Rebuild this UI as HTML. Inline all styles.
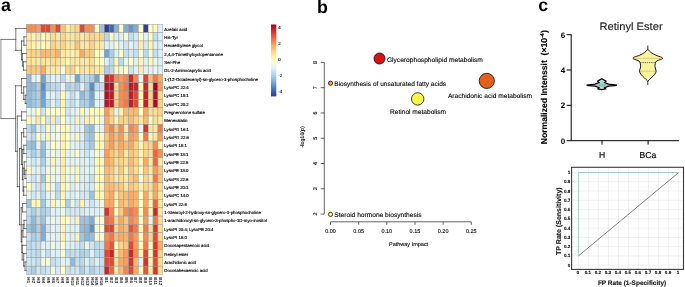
<!DOCTYPE html>
<html><head><meta charset="utf-8"><title>figure</title>
<style>html,body{margin:0;padding:0;background:#fff}svg{display:block;will-change:transform}text{text-rendering:geometricPrecision;font-family:"Liberation Sans",sans-serif}</style></head>
<body>
<svg width="685" height="287" viewBox="0 0 685 287">
<rect width="685" height="287" fill="#fff"/>
<g font-weight="bold" font-size="17.8" fill="#000"><text x="1.1" y="11.1">a</text><text x="317.1" y="13.1">b</text><text x="538.3" y="11.1">c</text></g>
<g stroke="#969696" stroke-width="0.45">
<rect x="26.30" y="24.30" width="4.88" height="8.34" fill="#F38E57"/>
<rect x="31.18" y="24.30" width="4.88" height="8.34" fill="#F38E57"/>
<rect x="36.05" y="24.30" width="4.88" height="8.34" fill="#F59C5E"/>
<rect x="40.92" y="24.30" width="4.88" height="8.34" fill="#DA4A36"/>
<rect x="45.80" y="24.30" width="4.88" height="8.34" fill="#DA4A36"/>
<rect x="50.67" y="24.30" width="4.88" height="8.34" fill="#F38E57"/>
<rect x="55.55" y="24.30" width="4.88" height="8.34" fill="#DA4A36"/>
<rect x="60.42" y="24.30" width="4.88" height="8.34" fill="#FAC078"/>
<rect x="65.30" y="24.30" width="4.88" height="8.34" fill="#FDEEAB"/>
<rect x="70.17" y="24.30" width="4.88" height="8.34" fill="#FCDE93"/>
<rect x="75.05" y="24.30" width="4.88" height="8.34" fill="#FBD48A"/>
<rect x="79.92" y="24.30" width="4.88" height="8.34" fill="#DA4A36"/>
<rect x="84.80" y="24.30" width="4.88" height="8.34" fill="#F38E57"/>
<rect x="89.67" y="24.30" width="4.88" height="8.34" fill="#F38E57"/>
<rect x="94.55" y="24.30" width="4.88" height="8.34" fill="#FEFEC3"/>
<rect x="99.42" y="24.30" width="4.88" height="8.34" fill="#9CC3DE"/>
<rect x="104.30" y="24.30" width="4.88" height="8.34" fill="#343D92"/>
<rect x="109.17" y="24.30" width="4.88" height="8.34" fill="#4368A9"/>
<rect x="114.05" y="24.30" width="4.88" height="8.34" fill="#87B2D5"/>
<rect x="118.92" y="24.30" width="4.88" height="8.34" fill="#FEFABC"/>
<rect x="123.80" y="24.30" width="4.88" height="8.34" fill="#82AED3"/>
<rect x="128.68" y="24.30" width="4.88" height="8.34" fill="#6996C4"/>
<rect x="133.55" y="24.30" width="4.88" height="8.34" fill="#82AED3"/>
<rect x="138.43" y="24.30" width="4.88" height="8.34" fill="#FEFEC3"/>
<rect x="143.30" y="24.30" width="4.88" height="8.34" fill="#343D92"/>
<rect x="148.18" y="24.30" width="4.88" height="8.34" fill="#FEFEC3"/>
<rect x="153.05" y="24.30" width="4.88" height="8.34" fill="#FEFEC3"/>
<rect x="157.93" y="24.30" width="4.88" height="8.34" fill="#E0F2F7"/>
<rect x="26.30" y="32.64" width="4.88" height="8.34" fill="#FDE8A1"/>
<rect x="31.18" y="32.64" width="4.88" height="8.34" fill="#FEF3B2"/>
<rect x="36.05" y="32.64" width="4.88" height="8.34" fill="#FDE8A1"/>
<rect x="40.92" y="32.64" width="4.88" height="8.34" fill="#FEF8B9"/>
<rect x="45.80" y="32.64" width="4.88" height="8.34" fill="#FDEEAB"/>
<rect x="50.67" y="32.64" width="4.88" height="8.34" fill="#FCDE93"/>
<rect x="55.55" y="32.64" width="4.88" height="8.34" fill="#FDE8A1"/>
<rect x="60.42" y="32.64" width="4.88" height="8.34" fill="#FBD48A"/>
<rect x="65.30" y="32.64" width="4.88" height="8.34" fill="#FDE8A1"/>
<rect x="70.17" y="32.64" width="4.88" height="8.34" fill="#FDE8A1"/>
<rect x="75.05" y="32.64" width="4.88" height="8.34" fill="#FCDE93"/>
<rect x="79.92" y="32.64" width="4.88" height="8.34" fill="#FDE8A1"/>
<rect x="84.80" y="32.64" width="4.88" height="8.34" fill="#FCDE93"/>
<rect x="89.67" y="32.64" width="4.88" height="8.34" fill="#FBD48A"/>
<rect x="94.55" y="32.64" width="4.88" height="8.34" fill="#FCDE93"/>
<rect x="99.42" y="32.64" width="4.88" height="8.34" fill="#FBD48A"/>
<rect x="104.30" y="32.64" width="4.88" height="8.34" fill="#B6D7E9"/>
<rect x="109.17" y="32.64" width="4.88" height="8.34" fill="#FEF8B9"/>
<rect x="114.05" y="32.64" width="4.88" height="8.34" fill="#DCF0F6"/>
<rect x="118.92" y="32.64" width="4.88" height="8.34" fill="#DCF0F6"/>
<rect x="123.80" y="32.64" width="4.88" height="8.34" fill="#F5FBD4"/>
<rect x="128.68" y="32.64" width="4.88" height="8.34" fill="#C4E0EE"/>
<rect x="133.55" y="32.64" width="4.88" height="8.34" fill="#D3E9F3"/>
<rect x="138.43" y="32.64" width="4.88" height="8.34" fill="#FEFEC3"/>
<rect x="143.30" y="32.64" width="4.88" height="8.34" fill="#E3F3F4"/>
<rect x="148.18" y="32.64" width="4.88" height="8.34" fill="#FEFEC3"/>
<rect x="153.05" y="32.64" width="4.88" height="8.34" fill="#C4E0EE"/>
<rect x="157.93" y="32.64" width="4.88" height="8.34" fill="#DCF0F6"/>
<rect x="26.30" y="40.98" width="4.88" height="8.34" fill="#FDE8A1"/>
<rect x="31.18" y="40.98" width="4.88" height="8.34" fill="#FEF3B2"/>
<rect x="36.05" y="40.98" width="4.88" height="8.34" fill="#FEF3B2"/>
<rect x="40.92" y="40.98" width="4.88" height="8.34" fill="#FEFABC"/>
<rect x="45.80" y="40.98" width="4.88" height="8.34" fill="#FEF3B2"/>
<rect x="50.67" y="40.98" width="4.88" height="8.34" fill="#FBD48A"/>
<rect x="55.55" y="40.98" width="4.88" height="8.34" fill="#FCDE93"/>
<rect x="60.42" y="40.98" width="4.88" height="8.34" fill="#FBD48A"/>
<rect x="65.30" y="40.98" width="4.88" height="8.34" fill="#FDE8A1"/>
<rect x="70.17" y="40.98" width="4.88" height="8.34" fill="#FDE8A1"/>
<rect x="75.05" y="40.98" width="4.88" height="8.34" fill="#FAC57C"/>
<rect x="79.92" y="40.98" width="4.88" height="8.34" fill="#FDE8A1"/>
<rect x="84.80" y="40.98" width="4.88" height="8.34" fill="#FDE8A1"/>
<rect x="89.67" y="40.98" width="4.88" height="8.34" fill="#FBD48A"/>
<rect x="94.55" y="40.98" width="4.88" height="8.34" fill="#FDE8A1"/>
<rect x="99.42" y="40.98" width="4.88" height="8.34" fill="#FDE8A1"/>
<rect x="104.30" y="40.98" width="4.88" height="8.34" fill="#DCF0F6"/>
<rect x="109.17" y="40.98" width="4.88" height="8.34" fill="#E0F2F7"/>
<rect x="114.05" y="40.98" width="4.88" height="8.34" fill="#F5FBD4"/>
<rect x="118.92" y="40.98" width="4.88" height="8.34" fill="#E0F2F7"/>
<rect x="123.80" y="40.98" width="4.88" height="8.34" fill="#CEE6F1"/>
<rect x="128.68" y="40.98" width="4.88" height="8.34" fill="#E0F2F7"/>
<rect x="133.55" y="40.98" width="4.88" height="8.34" fill="#D3E9F3"/>
<rect x="138.43" y="40.98" width="4.88" height="8.34" fill="#FDEEAB"/>
<rect x="143.30" y="40.98" width="4.88" height="8.34" fill="#D3E9F3"/>
<rect x="148.18" y="40.98" width="4.88" height="8.34" fill="#FEF3B2"/>
<rect x="153.05" y="40.98" width="4.88" height="8.34" fill="#DCF0F6"/>
<rect x="157.93" y="40.98" width="4.88" height="8.34" fill="#DCF0F6"/>
<rect x="26.30" y="49.32" width="4.88" height="8.34" fill="#FBD48A"/>
<rect x="31.18" y="49.32" width="4.88" height="8.34" fill="#FBD48A"/>
<rect x="36.05" y="49.32" width="4.88" height="8.34" fill="#FBD48A"/>
<rect x="40.92" y="49.32" width="4.88" height="8.34" fill="#F9BB73"/>
<rect x="45.80" y="49.32" width="4.88" height="8.34" fill="#F9BB73"/>
<rect x="50.67" y="49.32" width="4.88" height="8.34" fill="#FAC57C"/>
<rect x="55.55" y="49.32" width="4.88" height="8.34" fill="#F9B169"/>
<rect x="60.42" y="49.32" width="4.88" height="8.34" fill="#FDE8A1"/>
<rect x="65.30" y="49.32" width="4.88" height="8.34" fill="#FDEEAB"/>
<rect x="70.17" y="49.32" width="4.88" height="8.34" fill="#FEF3B2"/>
<rect x="75.05" y="49.32" width="4.88" height="8.34" fill="#FDE8A1"/>
<rect x="79.92" y="49.32" width="4.88" height="8.34" fill="#F8AA65"/>
<rect x="84.80" y="49.32" width="4.88" height="8.34" fill="#FACA81"/>
<rect x="89.67" y="49.32" width="4.88" height="8.34" fill="#FACA81"/>
<rect x="94.55" y="49.32" width="4.88" height="8.34" fill="#FEFABC"/>
<rect x="99.42" y="49.32" width="4.88" height="8.34" fill="#F5FBD4"/>
<rect x="104.30" y="49.32" width="4.88" height="8.34" fill="#77A4CD"/>
<rect x="109.17" y="49.32" width="4.88" height="8.34" fill="#ACCFE6"/>
<rect x="114.05" y="49.32" width="4.88" height="8.34" fill="#DCF0F6"/>
<rect x="118.92" y="49.32" width="4.88" height="8.34" fill="#FEFEC3"/>
<rect x="123.80" y="49.32" width="4.88" height="8.34" fill="#C4E0EE"/>
<rect x="128.68" y="49.32" width="4.88" height="8.34" fill="#D3E9F3"/>
<rect x="133.55" y="49.32" width="4.88" height="8.34" fill="#C4E0EE"/>
<rect x="138.43" y="49.32" width="4.88" height="8.34" fill="#F5FBD4"/>
<rect x="143.30" y="49.32" width="4.88" height="8.34" fill="#BBDAEB"/>
<rect x="148.18" y="49.32" width="4.88" height="8.34" fill="#F5FBD4"/>
<rect x="153.05" y="49.32" width="4.88" height="8.34" fill="#C4E0EE"/>
<rect x="157.93" y="49.32" width="4.88" height="8.34" fill="#DCF0F6"/>
<rect x="26.30" y="57.66" width="4.88" height="8.34" fill="#FCDE93"/>
<rect x="31.18" y="57.66" width="4.88" height="8.34" fill="#FDE8A1"/>
<rect x="36.05" y="57.66" width="4.88" height="8.34" fill="#FDE8A1"/>
<rect x="40.92" y="57.66" width="4.88" height="8.34" fill="#FCE298"/>
<rect x="45.80" y="57.66" width="4.88" height="8.34" fill="#FDE8A1"/>
<rect x="50.67" y="57.66" width="4.88" height="8.34" fill="#FCDE93"/>
<rect x="55.55" y="57.66" width="4.88" height="8.34" fill="#FCDE93"/>
<rect x="60.42" y="57.66" width="4.88" height="8.34" fill="#FDE8A1"/>
<rect x="65.30" y="57.66" width="4.88" height="8.34" fill="#FEF8B9"/>
<rect x="70.17" y="57.66" width="4.88" height="8.34" fill="#FDE8A1"/>
<rect x="75.05" y="57.66" width="4.88" height="8.34" fill="#FDE8A1"/>
<rect x="79.92" y="57.66" width="4.88" height="8.34" fill="#FDE8A1"/>
<rect x="84.80" y="57.66" width="4.88" height="8.34" fill="#FDE8A1"/>
<rect x="89.67" y="57.66" width="4.88" height="8.34" fill="#FCDE93"/>
<rect x="94.55" y="57.66" width="4.88" height="8.34" fill="#FEF8B9"/>
<rect x="99.42" y="57.66" width="4.88" height="8.34" fill="#FEFEC3"/>
<rect x="104.30" y="57.66" width="4.88" height="8.34" fill="#DCF0F6"/>
<rect x="109.17" y="57.66" width="4.88" height="8.34" fill="#BBDAEB"/>
<rect x="114.05" y="57.66" width="4.88" height="8.34" fill="#FEF8B9"/>
<rect x="118.92" y="57.66" width="4.88" height="8.34" fill="#BBDAEB"/>
<rect x="123.80" y="57.66" width="4.88" height="8.34" fill="#E9F6EA"/>
<rect x="128.68" y="57.66" width="4.88" height="8.34" fill="#FEFEC3"/>
<rect x="133.55" y="57.66" width="4.88" height="8.34" fill="#DCF0F6"/>
<rect x="138.43" y="57.66" width="4.88" height="8.34" fill="#FEF3B2"/>
<rect x="143.30" y="57.66" width="4.88" height="8.34" fill="#DCF0F6"/>
<rect x="148.18" y="57.66" width="4.88" height="8.34" fill="#FEF8B9"/>
<rect x="153.05" y="57.66" width="4.88" height="8.34" fill="#E9F6EA"/>
<rect x="157.93" y="57.66" width="4.88" height="8.34" fill="#DCF0F6"/>
<rect x="26.30" y="66.00" width="4.88" height="8.34" fill="#FAC57C"/>
<rect x="31.18" y="66.00" width="4.88" height="8.34" fill="#FACA81"/>
<rect x="36.05" y="66.00" width="4.88" height="8.34" fill="#FACA81"/>
<rect x="40.92" y="66.00" width="4.88" height="8.34" fill="#F8AA65"/>
<rect x="45.80" y="66.00" width="4.88" height="8.34" fill="#FDE8A1"/>
<rect x="50.67" y="66.00" width="4.88" height="8.34" fill="#FDE8A1"/>
<rect x="55.55" y="66.00" width="4.88" height="8.34" fill="#FDE8A1"/>
<rect x="60.42" y="66.00" width="4.88" height="8.34" fill="#F0F9DC"/>
<rect x="65.30" y="66.00" width="4.88" height="8.34" fill="#FBD48A"/>
<rect x="70.17" y="66.00" width="4.88" height="8.34" fill="#FBD48A"/>
<rect x="75.05" y="66.00" width="4.88" height="8.34" fill="#FEF8B9"/>
<rect x="79.92" y="66.00" width="4.88" height="8.34" fill="#FCE298"/>
<rect x="84.80" y="66.00" width="4.88" height="8.34" fill="#FDE8A1"/>
<rect x="89.67" y="66.00" width="4.88" height="8.34" fill="#FCDE93"/>
<rect x="94.55" y="66.00" width="4.88" height="8.34" fill="#FDE8A1"/>
<rect x="99.42" y="66.00" width="4.88" height="8.34" fill="#FDE8A1"/>
<rect x="104.30" y="66.00" width="4.88" height="8.34" fill="#ACCFE6"/>
<rect x="109.17" y="66.00" width="4.88" height="8.34" fill="#BBDAEB"/>
<rect x="114.05" y="66.00" width="4.88" height="8.34" fill="#FEFABC"/>
<rect x="118.92" y="66.00" width="4.88" height="8.34" fill="#F0F9DC"/>
<rect x="123.80" y="66.00" width="4.88" height="8.34" fill="#FEFEC3"/>
<rect x="128.68" y="66.00" width="4.88" height="8.34" fill="#CEE6F1"/>
<rect x="133.55" y="66.00" width="4.88" height="8.34" fill="#E3F3F4"/>
<rect x="138.43" y="66.00" width="4.88" height="8.34" fill="#FDEEAB"/>
<rect x="143.30" y="66.00" width="4.88" height="8.34" fill="#E0F2F7"/>
<rect x="148.18" y="66.00" width="4.88" height="8.34" fill="#E3F3F4"/>
<rect x="153.05" y="66.00" width="4.88" height="8.34" fill="#E9F6EA"/>
<rect x="157.93" y="66.00" width="4.88" height="8.34" fill="#DCF0F6"/>
<rect x="26.30" y="74.34" width="4.88" height="8.34" fill="#92BADA"/>
<rect x="31.18" y="74.34" width="4.88" height="8.34" fill="#E3F3F4"/>
<rect x="36.05" y="74.34" width="4.88" height="8.34" fill="#E9F6EA"/>
<rect x="40.92" y="74.34" width="4.88" height="8.34" fill="#77A4CD"/>
<rect x="45.80" y="74.34" width="4.88" height="8.34" fill="#CEE6F1"/>
<rect x="50.67" y="74.34" width="4.88" height="8.34" fill="#E3F3F4"/>
<rect x="55.55" y="74.34" width="4.88" height="8.34" fill="#DCF0F6"/>
<rect x="60.42" y="74.34" width="4.88" height="8.34" fill="#BBDAEB"/>
<rect x="65.30" y="74.34" width="4.88" height="8.34" fill="#E9F6EA"/>
<rect x="70.17" y="74.34" width="4.88" height="8.34" fill="#E9F6EA"/>
<rect x="75.05" y="74.34" width="4.88" height="8.34" fill="#77A4CD"/>
<rect x="79.92" y="74.34" width="4.88" height="8.34" fill="#C4E0EE"/>
<rect x="84.80" y="74.34" width="4.88" height="8.34" fill="#BBDAEB"/>
<rect x="89.67" y="74.34" width="4.88" height="8.34" fill="#ACCFE6"/>
<rect x="94.55" y="74.34" width="4.88" height="8.34" fill="#77A4CD"/>
<rect x="99.42" y="74.34" width="4.88" height="8.34" fill="#E3F3F4"/>
<rect x="104.30" y="74.34" width="4.88" height="8.34" fill="#C2272A"/>
<rect x="109.17" y="74.34" width="4.88" height="8.34" fill="#D0362D"/>
<rect x="114.05" y="74.34" width="4.88" height="8.34" fill="#F38E57"/>
<rect x="118.92" y="74.34" width="4.88" height="8.34" fill="#F59C5E"/>
<rect x="123.80" y="74.34" width="4.88" height="8.34" fill="#F18754"/>
<rect x="128.68" y="74.34" width="4.88" height="8.34" fill="#C72C2A"/>
<rect x="133.55" y="74.34" width="4.88" height="8.34" fill="#F18754"/>
<rect x="138.43" y="74.34" width="4.88" height="8.34" fill="#E3F3F4"/>
<rect x="143.30" y="74.34" width="4.88" height="8.34" fill="#D74433"/>
<rect x="148.18" y="74.34" width="4.88" height="8.34" fill="#F9BB73"/>
<rect x="153.05" y="74.34" width="4.88" height="8.34" fill="#EF794D"/>
<rect x="157.93" y="74.34" width="4.88" height="8.34" fill="#F8AA65"/>
<rect x="26.30" y="82.68" width="4.88" height="8.34" fill="#92BADA"/>
<rect x="31.18" y="82.68" width="4.88" height="8.34" fill="#92BADA"/>
<rect x="36.05" y="82.68" width="4.88" height="8.34" fill="#ACCFE6"/>
<rect x="40.92" y="82.68" width="4.88" height="8.34" fill="#608CBE"/>
<rect x="45.80" y="82.68" width="4.88" height="8.34" fill="#ACCFE6"/>
<rect x="50.67" y="82.68" width="4.88" height="8.34" fill="#BBDAEB"/>
<rect x="55.55" y="82.68" width="4.88" height="8.34" fill="#BBDAEB"/>
<rect x="60.42" y="82.68" width="4.88" height="8.34" fill="#E3F3F4"/>
<rect x="65.30" y="82.68" width="4.88" height="8.34" fill="#ACCFE6"/>
<rect x="70.17" y="82.68" width="4.88" height="8.34" fill="#BBDAEB"/>
<rect x="75.05" y="82.68" width="4.88" height="8.34" fill="#ACCFE6"/>
<rect x="79.92" y="82.68" width="4.88" height="8.34" fill="#DCF0F6"/>
<rect x="84.80" y="82.68" width="4.88" height="8.34" fill="#ACCFE6"/>
<rect x="89.67" y="82.68" width="4.88" height="8.34" fill="#608CBE"/>
<rect x="94.55" y="82.68" width="4.88" height="8.34" fill="#BBDAEB"/>
<rect x="99.42" y="82.68" width="4.88" height="8.34" fill="#C4E0EE"/>
<rect x="104.30" y="82.68" width="4.88" height="8.34" fill="#AD1328"/>
<rect x="109.17" y="82.68" width="4.88" height="8.34" fill="#AD1328"/>
<rect x="114.05" y="82.68" width="4.88" height="8.34" fill="#FCDE93"/>
<rect x="118.92" y="82.68" width="4.88" height="8.34" fill="#F38E57"/>
<rect x="123.80" y="82.68" width="4.88" height="8.34" fill="#EF794D"/>
<rect x="128.68" y="82.68" width="4.88" height="8.34" fill="#B71D29"/>
<rect x="133.55" y="82.68" width="4.88" height="8.34" fill="#C2272A"/>
<rect x="138.43" y="82.68" width="4.88" height="8.34" fill="#FEF8B9"/>
<rect x="143.30" y="82.68" width="4.88" height="8.34" fill="#C2272A"/>
<rect x="148.18" y="82.68" width="4.88" height="8.34" fill="#FCDE93"/>
<rect x="153.05" y="82.68" width="4.88" height="8.34" fill="#9D0427"/>
<rect x="157.93" y="82.68" width="4.88" height="8.34" fill="#F59C5E"/>
<rect x="26.30" y="91.02" width="4.88" height="8.34" fill="#92BADA"/>
<rect x="31.18" y="91.02" width="4.88" height="8.34" fill="#A1C7E1"/>
<rect x="36.05" y="91.02" width="4.88" height="8.34" fill="#ACCFE6"/>
<rect x="40.92" y="91.02" width="4.88" height="8.34" fill="#6E9BC7"/>
<rect x="45.80" y="91.02" width="4.88" height="8.34" fill="#DCF0F6"/>
<rect x="50.67" y="91.02" width="4.88" height="8.34" fill="#E0F2F7"/>
<rect x="55.55" y="91.02" width="4.88" height="8.34" fill="#CEE6F1"/>
<rect x="60.42" y="91.02" width="4.88" height="8.34" fill="#FEF8B9"/>
<rect x="65.30" y="91.02" width="4.88" height="8.34" fill="#DCF0F6"/>
<rect x="70.17" y="91.02" width="4.88" height="8.34" fill="#C4E0EE"/>
<rect x="75.05" y="91.02" width="4.88" height="8.34" fill="#E3F3F4"/>
<rect x="79.92" y="91.02" width="4.88" height="8.34" fill="#92BADA"/>
<rect x="84.80" y="91.02" width="4.88" height="8.34" fill="#ACCFE6"/>
<rect x="89.67" y="91.02" width="4.88" height="8.34" fill="#77A4CD"/>
<rect x="94.55" y="91.02" width="4.88" height="8.34" fill="#E3F3F4"/>
<rect x="99.42" y="91.02" width="4.88" height="8.34" fill="#E3F3F4"/>
<rect x="104.30" y="91.02" width="4.88" height="8.34" fill="#AD1328"/>
<rect x="109.17" y="91.02" width="4.88" height="8.34" fill="#B71D29"/>
<rect x="114.05" y="91.02" width="4.88" height="8.34" fill="#FBD48A"/>
<rect x="118.92" y="91.02" width="4.88" height="8.34" fill="#F38E57"/>
<rect x="123.80" y="91.02" width="4.88" height="8.34" fill="#F18754"/>
<rect x="128.68" y="91.02" width="4.88" height="8.34" fill="#BC222A"/>
<rect x="133.55" y="91.02" width="4.88" height="8.34" fill="#DA4A36"/>
<rect x="138.43" y="91.02" width="4.88" height="8.34" fill="#FEF8B9"/>
<rect x="143.30" y="91.02" width="4.88" height="8.34" fill="#BC222A"/>
<rect x="148.18" y="91.02" width="4.88" height="8.34" fill="#FBD48A"/>
<rect x="153.05" y="91.02" width="4.88" height="8.34" fill="#AD1328"/>
<rect x="157.93" y="91.02" width="4.88" height="8.34" fill="#FCDE93"/>
<rect x="26.30" y="99.36" width="4.88" height="8.34" fill="#92BADA"/>
<rect x="31.18" y="99.36" width="4.88" height="8.34" fill="#A1C7E1"/>
<rect x="36.05" y="99.36" width="4.88" height="8.34" fill="#ACCFE6"/>
<rect x="40.92" y="99.36" width="4.88" height="8.34" fill="#77A4CD"/>
<rect x="45.80" y="99.36" width="4.88" height="8.34" fill="#BBDAEB"/>
<rect x="50.67" y="99.36" width="4.88" height="8.34" fill="#E3F3F4"/>
<rect x="55.55" y="99.36" width="4.88" height="8.34" fill="#C4E0EE"/>
<rect x="60.42" y="99.36" width="4.88" height="8.34" fill="#FEF3B2"/>
<rect x="65.30" y="99.36" width="4.88" height="8.34" fill="#CEE6F1"/>
<rect x="70.17" y="99.36" width="4.88" height="8.34" fill="#C4E0EE"/>
<rect x="75.05" y="99.36" width="4.88" height="8.34" fill="#DCF0F6"/>
<rect x="79.92" y="99.36" width="4.88" height="8.34" fill="#ACCFE6"/>
<rect x="84.80" y="99.36" width="4.88" height="8.34" fill="#ACCFE6"/>
<rect x="89.67" y="99.36" width="4.88" height="8.34" fill="#82AED3"/>
<rect x="94.55" y="99.36" width="4.88" height="8.34" fill="#E0F2F7"/>
<rect x="99.42" y="99.36" width="4.88" height="8.34" fill="#DCF0F6"/>
<rect x="104.30" y="99.36" width="4.88" height="8.34" fill="#B21829"/>
<rect x="109.17" y="99.36" width="4.88" height="8.34" fill="#B71D29"/>
<rect x="114.05" y="99.36" width="4.88" height="8.34" fill="#FACA81"/>
<rect x="118.92" y="99.36" width="4.88" height="8.34" fill="#F38E57"/>
<rect x="123.80" y="99.36" width="4.88" height="8.34" fill="#EF794D"/>
<rect x="128.68" y="99.36" width="4.88" height="8.34" fill="#BC222A"/>
<rect x="133.55" y="99.36" width="4.88" height="8.34" fill="#DA4A36"/>
<rect x="138.43" y="99.36" width="4.88" height="8.34" fill="#FEF8B9"/>
<rect x="143.30" y="99.36" width="4.88" height="8.34" fill="#BC222A"/>
<rect x="148.18" y="99.36" width="4.88" height="8.34" fill="#FACA81"/>
<rect x="153.05" y="99.36" width="4.88" height="8.34" fill="#A80E28"/>
<rect x="157.93" y="99.36" width="4.88" height="8.34" fill="#FBD48A"/>
<rect x="26.30" y="107.70" width="4.88" height="8.34" fill="#E9F6EA"/>
<rect x="31.18" y="107.70" width="4.88" height="8.34" fill="#E9F6EA"/>
<rect x="36.05" y="107.70" width="4.88" height="8.34" fill="#FEFEC3"/>
<rect x="40.92" y="107.70" width="4.88" height="8.34" fill="#CEE6F1"/>
<rect x="45.80" y="107.70" width="4.88" height="8.34" fill="#FEFEC3"/>
<rect x="50.67" y="107.70" width="4.88" height="8.34" fill="#F5FBD4"/>
<rect x="55.55" y="107.70" width="4.88" height="8.34" fill="#FEFEC3"/>
<rect x="60.42" y="107.70" width="4.88" height="8.34" fill="#FEF8B9"/>
<rect x="65.30" y="107.70" width="4.88" height="8.34" fill="#CEE6F1"/>
<rect x="70.17" y="107.70" width="4.88" height="8.34" fill="#E0F2F7"/>
<rect x="75.05" y="107.70" width="4.88" height="8.34" fill="#E9F6EA"/>
<rect x="79.92" y="107.70" width="4.88" height="8.34" fill="#FEF8B9"/>
<rect x="84.80" y="107.70" width="4.88" height="8.34" fill="#E9F6EA"/>
<rect x="89.67" y="107.70" width="4.88" height="8.34" fill="#FEFABC"/>
<rect x="94.55" y="107.70" width="4.88" height="8.34" fill="#FEF8B9"/>
<rect x="99.42" y="107.70" width="4.88" height="8.34" fill="#FEF8B9"/>
<rect x="104.30" y="107.70" width="4.88" height="8.34" fill="#F59C5E"/>
<rect x="109.17" y="107.70" width="4.88" height="8.34" fill="#FBD48A"/>
<rect x="114.05" y="107.70" width="4.88" height="8.34" fill="#E9F6EA"/>
<rect x="118.92" y="107.70" width="4.88" height="8.34" fill="#FEF3B2"/>
<rect x="123.80" y="107.70" width="4.88" height="8.34" fill="#F9BB73"/>
<rect x="128.68" y="107.70" width="4.88" height="8.34" fill="#F9BB73"/>
<rect x="133.55" y="107.70" width="4.88" height="8.34" fill="#F9BB73"/>
<rect x="138.43" y="107.70" width="4.88" height="8.34" fill="#FEFEC3"/>
<rect x="143.30" y="107.70" width="4.88" height="8.34" fill="#F8AA65"/>
<rect x="148.18" y="107.70" width="4.88" height="8.34" fill="#FCDE93"/>
<rect x="153.05" y="107.70" width="4.88" height="8.34" fill="#FCDE93"/>
<rect x="157.93" y="107.70" width="4.88" height="8.34" fill="#FBD48A"/>
<rect x="26.30" y="116.04" width="4.88" height="8.34" fill="#FEF8B9"/>
<rect x="31.18" y="116.04" width="4.88" height="8.34" fill="#E9F6EA"/>
<rect x="36.05" y="116.04" width="4.88" height="8.34" fill="#FDE8A1"/>
<rect x="40.92" y="116.04" width="4.88" height="8.34" fill="#FEFEC3"/>
<rect x="45.80" y="116.04" width="4.88" height="8.34" fill="#CEE6F1"/>
<rect x="50.67" y="116.04" width="4.88" height="8.34" fill="#FDECA8"/>
<rect x="55.55" y="116.04" width="4.88" height="8.34" fill="#CEE6F1"/>
<rect x="60.42" y="116.04" width="4.88" height="8.34" fill="#FEFEC3"/>
<rect x="65.30" y="116.04" width="4.88" height="8.34" fill="#DCF0F6"/>
<rect x="70.17" y="116.04" width="4.88" height="8.34" fill="#DCF0F6"/>
<rect x="75.05" y="116.04" width="4.88" height="8.34" fill="#FEF3B2"/>
<rect x="79.92" y="116.04" width="4.88" height="8.34" fill="#DCF0F6"/>
<rect x="84.80" y="116.04" width="4.88" height="8.34" fill="#FDEEAB"/>
<rect x="89.67" y="116.04" width="4.88" height="8.34" fill="#FEF3B2"/>
<rect x="94.55" y="116.04" width="4.88" height="8.34" fill="#FEFEC3"/>
<rect x="99.42" y="116.04" width="4.88" height="8.34" fill="#E9F6EA"/>
<rect x="104.30" y="116.04" width="4.88" height="8.34" fill="#F8AA65"/>
<rect x="109.17" y="116.04" width="4.88" height="8.34" fill="#FBD48A"/>
<rect x="114.05" y="116.04" width="4.88" height="8.34" fill="#FEF3B2"/>
<rect x="118.92" y="116.04" width="4.88" height="8.34" fill="#FBD48A"/>
<rect x="123.80" y="116.04" width="4.88" height="8.34" fill="#FBD48A"/>
<rect x="128.68" y="116.04" width="4.88" height="8.34" fill="#F9BB73"/>
<rect x="133.55" y="116.04" width="4.88" height="8.34" fill="#FBD48A"/>
<rect x="138.43" y="116.04" width="4.88" height="8.34" fill="#FDE8A1"/>
<rect x="143.30" y="116.04" width="4.88" height="8.34" fill="#F9BB73"/>
<rect x="148.18" y="116.04" width="4.88" height="8.34" fill="#FEF8B9"/>
<rect x="153.05" y="116.04" width="4.88" height="8.34" fill="#FCDE93"/>
<rect x="157.93" y="116.04" width="4.88" height="8.34" fill="#FDE8A1"/>
<rect x="26.30" y="124.38" width="4.88" height="8.34" fill="#BBDAEB"/>
<rect x="31.18" y="124.38" width="4.88" height="8.34" fill="#9CC3DE"/>
<rect x="36.05" y="124.38" width="4.88" height="8.34" fill="#DCF0F6"/>
<rect x="40.92" y="124.38" width="4.88" height="8.34" fill="#CEE6F1"/>
<rect x="45.80" y="124.38" width="4.88" height="8.34" fill="#FEF8B9"/>
<rect x="50.67" y="124.38" width="4.88" height="8.34" fill="#E0F2F7"/>
<rect x="55.55" y="124.38" width="4.88" height="8.34" fill="#F5FBD4"/>
<rect x="60.42" y="124.38" width="4.88" height="8.34" fill="#FEF8B9"/>
<rect x="65.30" y="124.38" width="4.88" height="8.34" fill="#FEFABC"/>
<rect x="70.17" y="124.38" width="4.88" height="8.34" fill="#E0F2F7"/>
<rect x="75.05" y="124.38" width="4.88" height="8.34" fill="#E0F2F7"/>
<rect x="79.92" y="124.38" width="4.88" height="8.34" fill="#E3F3F4"/>
<rect x="84.80" y="124.38" width="4.88" height="8.34" fill="#A1C7E1"/>
<rect x="89.67" y="124.38" width="4.88" height="8.34" fill="#92BADA"/>
<rect x="94.55" y="124.38" width="4.88" height="8.34" fill="#E9F6EA"/>
<rect x="99.42" y="124.38" width="4.88" height="8.34" fill="#E3F3F4"/>
<rect x="104.30" y="124.38" width="4.88" height="8.34" fill="#F8AA65"/>
<rect x="109.17" y="124.38" width="4.88" height="8.34" fill="#F18754"/>
<rect x="114.05" y="124.38" width="4.88" height="8.34" fill="#FAC57C"/>
<rect x="118.92" y="124.38" width="4.88" height="8.34" fill="#F38E57"/>
<rect x="123.80" y="124.38" width="4.88" height="8.34" fill="#FDE8A1"/>
<rect x="128.68" y="124.38" width="4.88" height="8.34" fill="#F18754"/>
<rect x="133.55" y="124.38" width="4.88" height="8.34" fill="#F59C5E"/>
<rect x="138.43" y="124.38" width="4.88" height="8.34" fill="#E3F3F4"/>
<rect x="143.30" y="124.38" width="4.88" height="8.34" fill="#D0362D"/>
<rect x="148.18" y="124.38" width="4.88" height="8.34" fill="#FDE8A1"/>
<rect x="153.05" y="124.38" width="4.88" height="8.34" fill="#FDE8A1"/>
<rect x="157.93" y="124.38" width="4.88" height="8.34" fill="#EF794D"/>
<rect x="26.30" y="132.72" width="4.88" height="8.34" fill="#CEE6F1"/>
<rect x="31.18" y="132.72" width="4.88" height="8.34" fill="#BBDAEB"/>
<rect x="36.05" y="132.72" width="4.88" height="8.34" fill="#FEFEC3"/>
<rect x="40.92" y="132.72" width="4.88" height="8.34" fill="#DCF0F6"/>
<rect x="45.80" y="132.72" width="4.88" height="8.34" fill="#FEF3B2"/>
<rect x="50.67" y="132.72" width="4.88" height="8.34" fill="#E9F6EA"/>
<rect x="55.55" y="132.72" width="4.88" height="8.34" fill="#F0F9DC"/>
<rect x="60.42" y="132.72" width="4.88" height="8.34" fill="#FEF3B2"/>
<rect x="65.30" y="132.72" width="4.88" height="8.34" fill="#FEFEC3"/>
<rect x="70.17" y="132.72" width="4.88" height="8.34" fill="#E9F6EA"/>
<rect x="75.05" y="132.72" width="4.88" height="8.34" fill="#FEF8B9"/>
<rect x="79.92" y="132.72" width="4.88" height="8.34" fill="#DCF0F6"/>
<rect x="84.80" y="132.72" width="4.88" height="8.34" fill="#ACCFE6"/>
<rect x="89.67" y="132.72" width="4.88" height="8.34" fill="#9CC3DE"/>
<rect x="94.55" y="132.72" width="4.88" height="8.34" fill="#FEFEC3"/>
<rect x="99.42" y="132.72" width="4.88" height="8.34" fill="#FEF8B9"/>
<rect x="104.30" y="132.72" width="4.88" height="8.34" fill="#FAC57C"/>
<rect x="109.17" y="132.72" width="4.88" height="8.34" fill="#F59C5E"/>
<rect x="114.05" y="132.72" width="4.88" height="8.34" fill="#F9BB73"/>
<rect x="118.92" y="132.72" width="4.88" height="8.34" fill="#F59C5E"/>
<rect x="123.80" y="132.72" width="4.88" height="8.34" fill="#FCDE93"/>
<rect x="128.68" y="132.72" width="4.88" height="8.34" fill="#F59C5E"/>
<rect x="133.55" y="132.72" width="4.88" height="8.34" fill="#F8AA65"/>
<rect x="138.43" y="132.72" width="4.88" height="8.34" fill="#FEFEC3"/>
<rect x="143.30" y="132.72" width="4.88" height="8.34" fill="#EF794D"/>
<rect x="148.18" y="132.72" width="4.88" height="8.34" fill="#FEF3B2"/>
<rect x="153.05" y="132.72" width="4.88" height="8.34" fill="#FDE8A1"/>
<rect x="157.93" y="132.72" width="4.88" height="8.34" fill="#F59C5E"/>
<rect x="26.30" y="141.06" width="4.88" height="8.34" fill="#9CC3DE"/>
<rect x="31.18" y="141.06" width="4.88" height="8.34" fill="#92BADA"/>
<rect x="36.05" y="141.06" width="4.88" height="8.34" fill="#E3F3F4"/>
<rect x="40.92" y="141.06" width="4.88" height="8.34" fill="#9CC3DE"/>
<rect x="45.80" y="141.06" width="4.88" height="8.34" fill="#E3F3F4"/>
<rect x="50.67" y="141.06" width="4.88" height="8.34" fill="#FEFEC3"/>
<rect x="55.55" y="141.06" width="4.88" height="8.34" fill="#F0F9DC"/>
<rect x="60.42" y="141.06" width="4.88" height="8.34" fill="#FEF3B2"/>
<rect x="65.30" y="141.06" width="4.88" height="8.34" fill="#FEFEC3"/>
<rect x="70.17" y="141.06" width="4.88" height="8.34" fill="#E3F3F4"/>
<rect x="75.05" y="141.06" width="4.88" height="8.34" fill="#E0F2F7"/>
<rect x="79.92" y="141.06" width="4.88" height="8.34" fill="#D3E9F3"/>
<rect x="84.80" y="141.06" width="4.88" height="8.34" fill="#BBDAEB"/>
<rect x="89.67" y="141.06" width="4.88" height="8.34" fill="#A1C7E1"/>
<rect x="94.55" y="141.06" width="4.88" height="8.34" fill="#FEFABC"/>
<rect x="99.42" y="141.06" width="4.88" height="8.34" fill="#FEF8B9"/>
<rect x="104.30" y="141.06" width="4.88" height="8.34" fill="#F9BB73"/>
<rect x="109.17" y="141.06" width="4.88" height="8.34" fill="#F59C5E"/>
<rect x="114.05" y="141.06" width="4.88" height="8.34" fill="#FAC57C"/>
<rect x="118.92" y="141.06" width="4.88" height="8.34" fill="#F8AA65"/>
<rect x="123.80" y="141.06" width="4.88" height="8.34" fill="#F9BB73"/>
<rect x="128.68" y="141.06" width="4.88" height="8.34" fill="#F8AA65"/>
<rect x="133.55" y="141.06" width="4.88" height="8.34" fill="#FBD48A"/>
<rect x="138.43" y="141.06" width="4.88" height="8.34" fill="#FEF3B2"/>
<rect x="143.30" y="141.06" width="4.88" height="8.34" fill="#FBD48A"/>
<rect x="148.18" y="141.06" width="4.88" height="8.34" fill="#FBD48A"/>
<rect x="153.05" y="141.06" width="4.88" height="8.34" fill="#F38E57"/>
<rect x="157.93" y="141.06" width="4.88" height="8.34" fill="#FEF3B2"/>
<rect x="26.30" y="149.40" width="4.88" height="8.34" fill="#C4E0EE"/>
<rect x="31.18" y="149.40" width="4.88" height="8.34" fill="#ACCFE6"/>
<rect x="36.05" y="149.40" width="4.88" height="8.34" fill="#C4E0EE"/>
<rect x="40.92" y="149.40" width="4.88" height="8.34" fill="#92BADA"/>
<rect x="45.80" y="149.40" width="4.88" height="8.34" fill="#E3F3F4"/>
<rect x="50.67" y="149.40" width="4.88" height="8.34" fill="#F0F9DC"/>
<rect x="55.55" y="149.40" width="4.88" height="8.34" fill="#E3F3F4"/>
<rect x="60.42" y="149.40" width="4.88" height="8.34" fill="#FEF3B2"/>
<rect x="65.30" y="149.40" width="4.88" height="8.34" fill="#E0F2F7"/>
<rect x="70.17" y="149.40" width="4.88" height="8.34" fill="#E9F6EA"/>
<rect x="75.05" y="149.40" width="4.88" height="8.34" fill="#FEFEC3"/>
<rect x="79.92" y="149.40" width="4.88" height="8.34" fill="#DCF0F6"/>
<rect x="84.80" y="149.40" width="4.88" height="8.34" fill="#CEE6F1"/>
<rect x="89.67" y="149.40" width="4.88" height="8.34" fill="#DCF0F6"/>
<rect x="94.55" y="149.40" width="4.88" height="8.34" fill="#F5FBD4"/>
<rect x="99.42" y="149.40" width="4.88" height="8.34" fill="#E9F6EA"/>
<rect x="104.30" y="149.40" width="4.88" height="8.34" fill="#F59C5E"/>
<rect x="109.17" y="149.40" width="4.88" height="8.34" fill="#FAC57C"/>
<rect x="114.05" y="149.40" width="4.88" height="8.34" fill="#FBD48A"/>
<rect x="118.92" y="149.40" width="4.88" height="8.34" fill="#F9BB73"/>
<rect x="123.80" y="149.40" width="4.88" height="8.34" fill="#FDE8A1"/>
<rect x="128.68" y="149.40" width="4.88" height="8.34" fill="#FAC57C"/>
<rect x="133.55" y="149.40" width="4.88" height="8.34" fill="#FBD48A"/>
<rect x="138.43" y="149.40" width="4.88" height="8.34" fill="#FEF3B2"/>
<rect x="143.30" y="149.40" width="4.88" height="8.34" fill="#FBD48A"/>
<rect x="148.18" y="149.40" width="4.88" height="8.34" fill="#FCDE93"/>
<rect x="153.05" y="149.40" width="4.88" height="8.34" fill="#E86543"/>
<rect x="157.93" y="149.40" width="4.88" height="8.34" fill="#F38E57"/>
<rect x="26.30" y="157.74" width="4.88" height="8.34" fill="#E3F3F4"/>
<rect x="31.18" y="157.74" width="4.88" height="8.34" fill="#D3E9F3"/>
<rect x="36.05" y="157.74" width="4.88" height="8.34" fill="#DCF0F6"/>
<rect x="40.92" y="157.74" width="4.88" height="8.34" fill="#ACCFE6"/>
<rect x="45.80" y="157.74" width="4.88" height="8.34" fill="#E3F3F4"/>
<rect x="50.67" y="157.74" width="4.88" height="8.34" fill="#FEF3B2"/>
<rect x="55.55" y="157.74" width="4.88" height="8.34" fill="#E3F3F4"/>
<rect x="60.42" y="157.74" width="4.88" height="8.34" fill="#FDEEAB"/>
<rect x="65.30" y="157.74" width="4.88" height="8.34" fill="#E3F3F4"/>
<rect x="70.17" y="157.74" width="4.88" height="8.34" fill="#E3F3F4"/>
<rect x="75.05" y="157.74" width="4.88" height="8.34" fill="#E9F6EA"/>
<rect x="79.92" y="157.74" width="4.88" height="8.34" fill="#DCF0F6"/>
<rect x="84.80" y="157.74" width="4.88" height="8.34" fill="#E0F2F7"/>
<rect x="89.67" y="157.74" width="4.88" height="8.34" fill="#D3E9F3"/>
<rect x="94.55" y="157.74" width="4.88" height="8.34" fill="#FEFABC"/>
<rect x="99.42" y="157.74" width="4.88" height="8.34" fill="#FEF8B9"/>
<rect x="104.30" y="157.74" width="4.88" height="8.34" fill="#F8AA65"/>
<rect x="109.17" y="157.74" width="4.88" height="8.34" fill="#F9BB73"/>
<rect x="114.05" y="157.74" width="4.88" height="8.34" fill="#FCDE93"/>
<rect x="118.92" y="157.74" width="4.88" height="8.34" fill="#FBD48A"/>
<rect x="123.80" y="157.74" width="4.88" height="8.34" fill="#FCDE93"/>
<rect x="128.68" y="157.74" width="4.88" height="8.34" fill="#F9BB73"/>
<rect x="133.55" y="157.74" width="4.88" height="8.34" fill="#FBD48A"/>
<rect x="138.43" y="157.74" width="4.88" height="8.34" fill="#FEF3B2"/>
<rect x="143.30" y="157.74" width="4.88" height="8.34" fill="#F8AA65"/>
<rect x="148.18" y="157.74" width="4.88" height="8.34" fill="#FDE8A1"/>
<rect x="153.05" y="157.74" width="4.88" height="8.34" fill="#E86543"/>
<rect x="157.93" y="157.74" width="4.88" height="8.34" fill="#FDEEAB"/>
<rect x="26.30" y="166.08" width="4.88" height="8.34" fill="#FEFEC3"/>
<rect x="31.18" y="166.08" width="4.88" height="8.34" fill="#E3F3F4"/>
<rect x="36.05" y="166.08" width="4.88" height="8.34" fill="#E0F2F7"/>
<rect x="40.92" y="166.08" width="4.88" height="8.34" fill="#CEE6F1"/>
<rect x="45.80" y="166.08" width="4.88" height="8.34" fill="#F0F9DC"/>
<rect x="50.67" y="166.08" width="4.88" height="8.34" fill="#F0F9DC"/>
<rect x="55.55" y="166.08" width="4.88" height="8.34" fill="#E9F6EA"/>
<rect x="60.42" y="166.08" width="4.88" height="8.34" fill="#FDEEAB"/>
<rect x="65.30" y="166.08" width="4.88" height="8.34" fill="#F0F9DC"/>
<rect x="70.17" y="166.08" width="4.88" height="8.34" fill="#F0F9DC"/>
<rect x="75.05" y="166.08" width="4.88" height="8.34" fill="#FEF8B9"/>
<rect x="79.92" y="166.08" width="4.88" height="8.34" fill="#DCF0F6"/>
<rect x="84.80" y="166.08" width="4.88" height="8.34" fill="#E3F3F4"/>
<rect x="89.67" y="166.08" width="4.88" height="8.34" fill="#DCF0F6"/>
<rect x="94.55" y="166.08" width="4.88" height="8.34" fill="#FEFABC"/>
<rect x="99.42" y="166.08" width="4.88" height="8.34" fill="#FEFABC"/>
<rect x="104.30" y="166.08" width="4.88" height="8.34" fill="#F9BB73"/>
<rect x="109.17" y="166.08" width="4.88" height="8.34" fill="#FAC57C"/>
<rect x="114.05" y="166.08" width="4.88" height="8.34" fill="#FDE8A1"/>
<rect x="118.92" y="166.08" width="4.88" height="8.34" fill="#FACA81"/>
<rect x="123.80" y="166.08" width="4.88" height="8.34" fill="#FDEEAB"/>
<rect x="128.68" y="166.08" width="4.88" height="8.34" fill="#FAC57C"/>
<rect x="133.55" y="166.08" width="4.88" height="8.34" fill="#FCDE93"/>
<rect x="138.43" y="166.08" width="4.88" height="8.34" fill="#FEF8B9"/>
<rect x="143.30" y="166.08" width="4.88" height="8.34" fill="#FAC57C"/>
<rect x="148.18" y="166.08" width="4.88" height="8.34" fill="#FDE8A1"/>
<rect x="153.05" y="166.08" width="4.88" height="8.34" fill="#F59C5E"/>
<rect x="157.93" y="166.08" width="4.88" height="8.34" fill="#FAC57C"/>
<rect x="26.30" y="174.42" width="4.88" height="8.34" fill="#E3F3F4"/>
<rect x="31.18" y="174.42" width="4.88" height="8.34" fill="#CEE6F1"/>
<rect x="36.05" y="174.42" width="4.88" height="8.34" fill="#DCF0F6"/>
<rect x="40.92" y="174.42" width="4.88" height="8.34" fill="#A1C7E1"/>
<rect x="45.80" y="174.42" width="4.88" height="8.34" fill="#FEF8B9"/>
<rect x="50.67" y="174.42" width="4.88" height="8.34" fill="#E9F6EA"/>
<rect x="55.55" y="174.42" width="4.88" height="8.34" fill="#E3F3F4"/>
<rect x="60.42" y="174.42" width="4.88" height="8.34" fill="#FDEEAB"/>
<rect x="65.30" y="174.42" width="4.88" height="8.34" fill="#E9F6EA"/>
<rect x="70.17" y="174.42" width="4.88" height="8.34" fill="#E3F3F4"/>
<rect x="75.05" y="174.42" width="4.88" height="8.34" fill="#FEF8B9"/>
<rect x="79.92" y="174.42" width="4.88" height="8.34" fill="#DCF0F6"/>
<rect x="84.80" y="174.42" width="4.88" height="8.34" fill="#DCF0F6"/>
<rect x="89.67" y="174.42" width="4.88" height="8.34" fill="#C4E0EE"/>
<rect x="94.55" y="174.42" width="4.88" height="8.34" fill="#FEF8B9"/>
<rect x="99.42" y="174.42" width="4.88" height="8.34" fill="#FEF8B9"/>
<rect x="104.30" y="174.42" width="4.88" height="8.34" fill="#F9BB73"/>
<rect x="109.17" y="174.42" width="4.88" height="8.34" fill="#FBD48A"/>
<rect x="114.05" y="174.42" width="4.88" height="8.34" fill="#FDE8A1"/>
<rect x="118.92" y="174.42" width="4.88" height="8.34" fill="#FCDE93"/>
<rect x="123.80" y="174.42" width="4.88" height="8.34" fill="#FDE8A1"/>
<rect x="128.68" y="174.42" width="4.88" height="8.34" fill="#FACA81"/>
<rect x="133.55" y="174.42" width="4.88" height="8.34" fill="#F9BB73"/>
<rect x="138.43" y="174.42" width="4.88" height="8.34" fill="#F0F9DC"/>
<rect x="143.30" y="174.42" width="4.88" height="8.34" fill="#FBD48A"/>
<rect x="148.18" y="174.42" width="4.88" height="8.34" fill="#FDE8A1"/>
<rect x="153.05" y="174.42" width="4.88" height="8.34" fill="#EF794D"/>
<rect x="157.93" y="174.42" width="4.88" height="8.34" fill="#FAC57C"/>
<rect x="26.30" y="182.76" width="4.88" height="8.34" fill="#FEFEC3"/>
<rect x="31.18" y="182.76" width="4.88" height="8.34" fill="#DCF0F6"/>
<rect x="36.05" y="182.76" width="4.88" height="8.34" fill="#CEE6F1"/>
<rect x="40.92" y="182.76" width="4.88" height="8.34" fill="#C4E0EE"/>
<rect x="45.80" y="182.76" width="4.88" height="8.34" fill="#FEF8B9"/>
<rect x="50.67" y="182.76" width="4.88" height="8.34" fill="#E9F6EA"/>
<rect x="55.55" y="182.76" width="4.88" height="8.34" fill="#BBDAEB"/>
<rect x="60.42" y="182.76" width="4.88" height="8.34" fill="#FEF3B2"/>
<rect x="65.30" y="182.76" width="4.88" height="8.34" fill="#F0F9DC"/>
<rect x="70.17" y="182.76" width="4.88" height="8.34" fill="#DCF0F6"/>
<rect x="75.05" y="182.76" width="4.88" height="8.34" fill="#E9F6EA"/>
<rect x="79.92" y="182.76" width="4.88" height="8.34" fill="#DCF0F6"/>
<rect x="84.80" y="182.76" width="4.88" height="8.34" fill="#D3E9F3"/>
<rect x="89.67" y="182.76" width="4.88" height="8.34" fill="#D3E9F3"/>
<rect x="94.55" y="182.76" width="4.88" height="8.34" fill="#FEF8B9"/>
<rect x="99.42" y="182.76" width="4.88" height="8.34" fill="#FEF3B2"/>
<rect x="104.30" y="182.76" width="4.88" height="8.34" fill="#F9BB73"/>
<rect x="109.17" y="182.76" width="4.88" height="8.34" fill="#F9BB73"/>
<rect x="114.05" y="182.76" width="4.88" height="8.34" fill="#FACA81"/>
<rect x="118.92" y="182.76" width="4.88" height="8.34" fill="#FACA81"/>
<rect x="123.80" y="182.76" width="4.88" height="8.34" fill="#FDE8A1"/>
<rect x="128.68" y="182.76" width="4.88" height="8.34" fill="#FAC57C"/>
<rect x="133.55" y="182.76" width="4.88" height="8.34" fill="#FBD48A"/>
<rect x="138.43" y="182.76" width="4.88" height="8.34" fill="#FDEEAB"/>
<rect x="143.30" y="182.76" width="4.88" height="8.34" fill="#FBD48A"/>
<rect x="148.18" y="182.76" width="4.88" height="8.34" fill="#FCDE93"/>
<rect x="153.05" y="182.76" width="4.88" height="8.34" fill="#F8AA65"/>
<rect x="157.93" y="182.76" width="4.88" height="8.34" fill="#FCDE93"/>
<rect x="26.30" y="191.10" width="4.88" height="8.34" fill="#E9F6EA"/>
<rect x="31.18" y="191.10" width="4.88" height="8.34" fill="#D3E9F3"/>
<rect x="36.05" y="191.10" width="4.88" height="8.34" fill="#DCF0F6"/>
<rect x="40.92" y="191.10" width="4.88" height="8.34" fill="#BBDAEB"/>
<rect x="45.80" y="191.10" width="4.88" height="8.34" fill="#E3F3F4"/>
<rect x="50.67" y="191.10" width="4.88" height="8.34" fill="#E9F6EA"/>
<rect x="55.55" y="191.10" width="4.88" height="8.34" fill="#BBDAEB"/>
<rect x="60.42" y="191.10" width="4.88" height="8.34" fill="#FEF3B2"/>
<rect x="65.30" y="191.10" width="4.88" height="8.34" fill="#DCF0F6"/>
<rect x="70.17" y="191.10" width="4.88" height="8.34" fill="#DCF0F6"/>
<rect x="75.05" y="191.10" width="4.88" height="8.34" fill="#E9F6EA"/>
<rect x="79.92" y="191.10" width="4.88" height="8.34" fill="#D3E9F3"/>
<rect x="84.80" y="191.10" width="4.88" height="8.34" fill="#D3E9F3"/>
<rect x="89.67" y="191.10" width="4.88" height="8.34" fill="#9CC3DE"/>
<rect x="94.55" y="191.10" width="4.88" height="8.34" fill="#FEF8B9"/>
<rect x="99.42" y="191.10" width="4.88" height="8.34" fill="#FEF8B9"/>
<rect x="104.30" y="191.10" width="4.88" height="8.34" fill="#F9BB73"/>
<rect x="109.17" y="191.10" width="4.88" height="8.34" fill="#F8AA65"/>
<rect x="114.05" y="191.10" width="4.88" height="8.34" fill="#FDE8A1"/>
<rect x="118.92" y="191.10" width="4.88" height="8.34" fill="#FAC57C"/>
<rect x="123.80" y="191.10" width="4.88" height="8.34" fill="#F9BB73"/>
<rect x="128.68" y="191.10" width="4.88" height="8.34" fill="#F8AA65"/>
<rect x="133.55" y="191.10" width="4.88" height="8.34" fill="#F9B169"/>
<rect x="138.43" y="191.10" width="4.88" height="8.34" fill="#FEFEC3"/>
<rect x="143.30" y="191.10" width="4.88" height="8.34" fill="#F8AA65"/>
<rect x="148.18" y="191.10" width="4.88" height="8.34" fill="#FDE8A1"/>
<rect x="153.05" y="191.10" width="4.88" height="8.34" fill="#F8AA65"/>
<rect x="157.93" y="191.10" width="4.88" height="8.34" fill="#FDE8A1"/>
<rect x="26.30" y="199.44" width="4.88" height="8.34" fill="#9CC3DE"/>
<rect x="31.18" y="199.44" width="4.88" height="8.34" fill="#FEF8B9"/>
<rect x="36.05" y="199.44" width="4.88" height="8.34" fill="#FEF8B9"/>
<rect x="40.92" y="199.44" width="4.88" height="8.34" fill="#A1C7E1"/>
<rect x="45.80" y="199.44" width="4.88" height="8.34" fill="#DCF0F6"/>
<rect x="50.67" y="199.44" width="4.88" height="8.34" fill="#FEF3B2"/>
<rect x="55.55" y="199.44" width="4.88" height="8.34" fill="#E9F6EA"/>
<rect x="60.42" y="199.44" width="4.88" height="8.34" fill="#FEFABC"/>
<rect x="65.30" y="199.44" width="4.88" height="8.34" fill="#ACCFE6"/>
<rect x="70.17" y="199.44" width="4.88" height="8.34" fill="#E9F6EA"/>
<rect x="75.05" y="199.44" width="4.88" height="8.34" fill="#CEE6F1"/>
<rect x="79.92" y="199.44" width="4.88" height="8.34" fill="#FEF3B2"/>
<rect x="84.80" y="199.44" width="4.88" height="8.34" fill="#DCF0F6"/>
<rect x="89.67" y="199.44" width="4.88" height="8.34" fill="#CEE6F1"/>
<rect x="94.55" y="199.44" width="4.88" height="8.34" fill="#DCF0F6"/>
<rect x="99.42" y="199.44" width="4.88" height="8.34" fill="#F0F9DC"/>
<rect x="104.30" y="199.44" width="4.88" height="8.34" fill="#F8AA65"/>
<rect x="109.17" y="199.44" width="4.88" height="8.34" fill="#F8AA65"/>
<rect x="114.05" y="199.44" width="4.88" height="8.34" fill="#FEF3B2"/>
<rect x="118.92" y="199.44" width="4.88" height="8.34" fill="#F9BB73"/>
<rect x="123.80" y="199.44" width="4.88" height="8.34" fill="#FAC57C"/>
<rect x="128.68" y="199.44" width="4.88" height="8.34" fill="#F8AA65"/>
<rect x="133.55" y="199.44" width="4.88" height="8.34" fill="#F9BB73"/>
<rect x="138.43" y="199.44" width="4.88" height="8.34" fill="#FEFEC3"/>
<rect x="143.30" y="199.44" width="4.88" height="8.34" fill="#F8AA65"/>
<rect x="148.18" y="199.44" width="4.88" height="8.34" fill="#FEF3B2"/>
<rect x="153.05" y="199.44" width="4.88" height="8.34" fill="#E86543"/>
<rect x="157.93" y="199.44" width="4.88" height="8.34" fill="#FDE8A1"/>
<rect x="26.30" y="207.78" width="4.88" height="8.34" fill="#C4E0EE"/>
<rect x="31.18" y="207.78" width="4.88" height="8.34" fill="#ACCFE6"/>
<rect x="36.05" y="207.78" width="4.88" height="8.34" fill="#C4E0EE"/>
<rect x="40.92" y="207.78" width="4.88" height="8.34" fill="#ACCFE6"/>
<rect x="45.80" y="207.78" width="4.88" height="8.34" fill="#BBDAEB"/>
<rect x="50.67" y="207.78" width="4.88" height="8.34" fill="#E3F3F4"/>
<rect x="55.55" y="207.78" width="4.88" height="8.34" fill="#DCF0F6"/>
<rect x="60.42" y="207.78" width="4.88" height="8.34" fill="#E9F6EA"/>
<rect x="65.30" y="207.78" width="4.88" height="8.34" fill="#CEE6F1"/>
<rect x="70.17" y="207.78" width="4.88" height="8.34" fill="#D3E9F3"/>
<rect x="75.05" y="207.78" width="4.88" height="8.34" fill="#D3E9F3"/>
<rect x="79.92" y="207.78" width="4.88" height="8.34" fill="#D3E9F3"/>
<rect x="84.80" y="207.78" width="4.88" height="8.34" fill="#DCF0F6"/>
<rect x="89.67" y="207.78" width="4.88" height="8.34" fill="#DCF0F6"/>
<rect x="94.55" y="207.78" width="4.88" height="8.34" fill="#DCF0F6"/>
<rect x="99.42" y="207.78" width="4.88" height="8.34" fill="#E3F3F4"/>
<rect x="104.30" y="207.78" width="4.88" height="8.34" fill="#D0362D"/>
<rect x="109.17" y="207.78" width="4.88" height="8.34" fill="#F18754"/>
<rect x="114.05" y="207.78" width="4.88" height="8.34" fill="#FEF8B9"/>
<rect x="118.92" y="207.78" width="4.88" height="8.34" fill="#FACA81"/>
<rect x="123.80" y="207.78" width="4.88" height="8.34" fill="#F38E57"/>
<rect x="128.68" y="207.78" width="4.88" height="8.34" fill="#EF794D"/>
<rect x="133.55" y="207.78" width="4.88" height="8.34" fill="#F38E57"/>
<rect x="138.43" y="207.78" width="4.88" height="8.34" fill="#FEFEC3"/>
<rect x="143.30" y="207.78" width="4.88" height="8.34" fill="#F38E57"/>
<rect x="148.18" y="207.78" width="4.88" height="8.34" fill="#FEF8B9"/>
<rect x="153.05" y="207.78" width="4.88" height="8.34" fill="#C72C2A"/>
<rect x="157.93" y="207.78" width="4.88" height="8.34" fill="#FDE8A1"/>
<rect x="26.30" y="216.12" width="4.88" height="8.34" fill="#BBDAEB"/>
<rect x="31.18" y="216.12" width="4.88" height="8.34" fill="#92BADA"/>
<rect x="36.05" y="216.12" width="4.88" height="8.34" fill="#BBDAEB"/>
<rect x="40.92" y="216.12" width="4.88" height="8.34" fill="#9CC3DE"/>
<rect x="45.80" y="216.12" width="4.88" height="8.34" fill="#DCF0F6"/>
<rect x="50.67" y="216.12" width="4.88" height="8.34" fill="#E9F6EA"/>
<rect x="55.55" y="216.12" width="4.88" height="8.34" fill="#E3F3F4"/>
<rect x="60.42" y="216.12" width="4.88" height="8.34" fill="#FEF8B9"/>
<rect x="65.30" y="216.12" width="4.88" height="8.34" fill="#FEFEC3"/>
<rect x="70.17" y="216.12" width="4.88" height="8.34" fill="#E3F3F4"/>
<rect x="75.05" y="216.12" width="4.88" height="8.34" fill="#FEF3B2"/>
<rect x="79.92" y="216.12" width="4.88" height="8.34" fill="#9CC3DE"/>
<rect x="84.80" y="216.12" width="4.88" height="8.34" fill="#9CC3DE"/>
<rect x="89.67" y="216.12" width="4.88" height="8.34" fill="#82AED3"/>
<rect x="94.55" y="216.12" width="4.88" height="8.34" fill="#F0F9DC"/>
<rect x="99.42" y="216.12" width="4.88" height="8.34" fill="#F5FBD4"/>
<rect x="104.30" y="216.12" width="4.88" height="8.34" fill="#EB6B46"/>
<rect x="109.17" y="216.12" width="4.88" height="8.34" fill="#EF794D"/>
<rect x="114.05" y="216.12" width="4.88" height="8.34" fill="#FBD48A"/>
<rect x="118.92" y="216.12" width="4.88" height="8.34" fill="#F8AA65"/>
<rect x="123.80" y="216.12" width="4.88" height="8.34" fill="#FAC57C"/>
<rect x="128.68" y="216.12" width="4.88" height="8.34" fill="#F18754"/>
<rect x="133.55" y="216.12" width="4.88" height="8.34" fill="#F59C5E"/>
<rect x="138.43" y="216.12" width="4.88" height="8.34" fill="#FEFABC"/>
<rect x="143.30" y="216.12" width="4.88" height="8.34" fill="#F59C5E"/>
<rect x="148.18" y="216.12" width="4.88" height="8.34" fill="#E9F6EA"/>
<rect x="153.05" y="216.12" width="4.88" height="8.34" fill="#EF794D"/>
<rect x="157.93" y="216.12" width="4.88" height="8.34" fill="#FCDE93"/>
<rect x="26.30" y="224.46" width="4.88" height="8.34" fill="#9CC3DE"/>
<rect x="31.18" y="224.46" width="4.88" height="8.34" fill="#87B2D5"/>
<rect x="36.05" y="224.46" width="4.88" height="8.34" fill="#ACCFE6"/>
<rect x="40.92" y="224.46" width="4.88" height="8.34" fill="#82AED3"/>
<rect x="45.80" y="224.46" width="4.88" height="8.34" fill="#CEE6F1"/>
<rect x="50.67" y="224.46" width="4.88" height="8.34" fill="#E3F3F4"/>
<rect x="55.55" y="224.46" width="4.88" height="8.34" fill="#DCF0F6"/>
<rect x="60.42" y="224.46" width="4.88" height="8.34" fill="#FEF3B2"/>
<rect x="65.30" y="224.46" width="4.88" height="8.34" fill="#DCF0F6"/>
<rect x="70.17" y="224.46" width="4.88" height="8.34" fill="#DCF0F6"/>
<rect x="75.05" y="224.46" width="4.88" height="8.34" fill="#E3F3F4"/>
<rect x="79.92" y="224.46" width="4.88" height="8.34" fill="#92BADA"/>
<rect x="84.80" y="224.46" width="4.88" height="8.34" fill="#8CB6D7"/>
<rect x="89.67" y="224.46" width="4.88" height="8.34" fill="#6491C1"/>
<rect x="94.55" y="224.46" width="4.88" height="8.34" fill="#F0F9DC"/>
<rect x="99.42" y="224.46" width="4.88" height="8.34" fill="#F5FBD4"/>
<rect x="104.30" y="224.46" width="4.88" height="8.34" fill="#DA4A36"/>
<rect x="109.17" y="224.46" width="4.88" height="8.34" fill="#D74433"/>
<rect x="114.05" y="224.46" width="4.88" height="8.34" fill="#FBD48A"/>
<rect x="118.92" y="224.46" width="4.88" height="8.34" fill="#F8AA65"/>
<rect x="123.80" y="224.46" width="4.88" height="8.34" fill="#F9BB73"/>
<rect x="128.68" y="224.46" width="4.88" height="8.34" fill="#E1573D"/>
<rect x="133.55" y="224.46" width="4.88" height="8.34" fill="#EF794D"/>
<rect x="138.43" y="224.46" width="4.88" height="8.34" fill="#FEF3B2"/>
<rect x="143.30" y="224.46" width="4.88" height="8.34" fill="#EF794D"/>
<rect x="148.18" y="224.46" width="4.88" height="8.34" fill="#FCDE93"/>
<rect x="153.05" y="224.46" width="4.88" height="8.34" fill="#D0362D"/>
<rect x="157.93" y="224.46" width="4.88" height="8.34" fill="#FCDE93"/>
<rect x="26.30" y="232.80" width="4.88" height="8.34" fill="#C9E3F0"/>
<rect x="31.18" y="232.80" width="4.88" height="8.34" fill="#ACCFE6"/>
<rect x="36.05" y="232.80" width="4.88" height="8.34" fill="#B6D7E9"/>
<rect x="40.92" y="232.80" width="4.88" height="8.34" fill="#82AED3"/>
<rect x="45.80" y="232.80" width="4.88" height="8.34" fill="#DCF0F6"/>
<rect x="50.67" y="232.80" width="4.88" height="8.34" fill="#E3F3F4"/>
<rect x="55.55" y="232.80" width="4.88" height="8.34" fill="#DCF0F6"/>
<rect x="60.42" y="232.80" width="4.88" height="8.34" fill="#FEF3B2"/>
<rect x="65.30" y="232.80" width="4.88" height="8.34" fill="#E3F3F4"/>
<rect x="70.17" y="232.80" width="4.88" height="8.34" fill="#DCF0F6"/>
<rect x="75.05" y="232.80" width="4.88" height="8.34" fill="#FEF3B2"/>
<rect x="79.92" y="232.80" width="4.88" height="8.34" fill="#A1C7E1"/>
<rect x="84.80" y="232.80" width="4.88" height="8.34" fill="#8CB6D7"/>
<rect x="89.67" y="232.80" width="4.88" height="8.34" fill="#97BEDC"/>
<rect x="94.55" y="232.80" width="4.88" height="8.34" fill="#F5FBD4"/>
<rect x="99.42" y="232.80" width="4.88" height="8.34" fill="#F5FBD4"/>
<rect x="104.30" y="232.80" width="4.88" height="8.34" fill="#F38E57"/>
<rect x="109.17" y="232.80" width="4.88" height="8.34" fill="#EF794D"/>
<rect x="114.05" y="232.80" width="4.88" height="8.34" fill="#F9BB73"/>
<rect x="118.92" y="232.80" width="4.88" height="8.34" fill="#F8AA65"/>
<rect x="123.80" y="232.80" width="4.88" height="8.34" fill="#F9B169"/>
<rect x="128.68" y="232.80" width="4.88" height="8.34" fill="#EF794D"/>
<rect x="133.55" y="232.80" width="4.88" height="8.34" fill="#F59C5E"/>
<rect x="138.43" y="232.80" width="4.88" height="8.34" fill="#FEF8B9"/>
<rect x="143.30" y="232.80" width="4.88" height="8.34" fill="#F38E57"/>
<rect x="148.18" y="232.80" width="4.88" height="8.34" fill="#FBD48A"/>
<rect x="153.05" y="232.80" width="4.88" height="8.34" fill="#DA4A36"/>
<rect x="157.93" y="232.80" width="4.88" height="8.34" fill="#FCDE93"/>
<rect x="26.30" y="241.14" width="4.88" height="8.34" fill="#BBDAEB"/>
<rect x="31.18" y="241.14" width="4.88" height="8.34" fill="#C4E0EE"/>
<rect x="36.05" y="241.14" width="4.88" height="8.34" fill="#C4E0EE"/>
<rect x="40.92" y="241.14" width="4.88" height="8.34" fill="#E3F3F4"/>
<rect x="45.80" y="241.14" width="4.88" height="8.34" fill="#DCF0F6"/>
<rect x="50.67" y="241.14" width="4.88" height="8.34" fill="#F0F9DC"/>
<rect x="55.55" y="241.14" width="4.88" height="8.34" fill="#DCF0F6"/>
<rect x="60.42" y="241.14" width="4.88" height="8.34" fill="#F5FBD4"/>
<rect x="65.30" y="241.14" width="4.88" height="8.34" fill="#DCF0F6"/>
<rect x="70.17" y="241.14" width="4.88" height="8.34" fill="#DCF0F6"/>
<rect x="75.05" y="241.14" width="4.88" height="8.34" fill="#D3E9F3"/>
<rect x="79.92" y="241.14" width="4.88" height="8.34" fill="#C4E0EE"/>
<rect x="84.80" y="241.14" width="4.88" height="8.34" fill="#E9F6EA"/>
<rect x="89.67" y="241.14" width="4.88" height="8.34" fill="#CEE6F1"/>
<rect x="94.55" y="241.14" width="4.88" height="8.34" fill="#BBDAEB"/>
<rect x="99.42" y="241.14" width="4.88" height="8.34" fill="#C4E0EE"/>
<rect x="104.30" y="241.14" width="4.88" height="8.34" fill="#EF794D"/>
<rect x="109.17" y="241.14" width="4.88" height="8.34" fill="#E1573D"/>
<rect x="114.05" y="241.14" width="4.88" height="8.34" fill="#FEF8B9"/>
<rect x="118.92" y="241.14" width="4.88" height="8.34" fill="#FBD48A"/>
<rect x="123.80" y="241.14" width="4.88" height="8.34" fill="#FAC57C"/>
<rect x="128.68" y="241.14" width="4.88" height="8.34" fill="#DA4A36"/>
<rect x="133.55" y="241.14" width="4.88" height="8.34" fill="#F59C5E"/>
<rect x="138.43" y="241.14" width="4.88" height="8.34" fill="#FEF8B9"/>
<rect x="143.30" y="241.14" width="4.88" height="8.34" fill="#EF794D"/>
<rect x="148.18" y="241.14" width="4.88" height="8.34" fill="#FEFABC"/>
<rect x="153.05" y="241.14" width="4.88" height="8.34" fill="#D0362D"/>
<rect x="157.93" y="241.14" width="4.88" height="8.34" fill="#F8AA65"/>
<rect x="26.30" y="249.48" width="4.88" height="8.34" fill="#C4E0EE"/>
<rect x="31.18" y="249.48" width="4.88" height="8.34" fill="#C4E0EE"/>
<rect x="36.05" y="249.48" width="4.88" height="8.34" fill="#BBDAEB"/>
<rect x="40.92" y="249.48" width="4.88" height="8.34" fill="#E3F3F4"/>
<rect x="45.80" y="249.48" width="4.88" height="8.34" fill="#C4E0EE"/>
<rect x="50.67" y="249.48" width="4.88" height="8.34" fill="#DCF0F6"/>
<rect x="55.55" y="249.48" width="4.88" height="8.34" fill="#DCF0F6"/>
<rect x="60.42" y="249.48" width="4.88" height="8.34" fill="#F5FBD4"/>
<rect x="65.30" y="249.48" width="4.88" height="8.34" fill="#BBDAEB"/>
<rect x="70.17" y="249.48" width="4.88" height="8.34" fill="#C4E0EE"/>
<rect x="75.05" y="249.48" width="4.88" height="8.34" fill="#C4E0EE"/>
<rect x="79.92" y="249.48" width="4.88" height="8.34" fill="#ACCFE6"/>
<rect x="84.80" y="249.48" width="4.88" height="8.34" fill="#B6D7E9"/>
<rect x="89.67" y="249.48" width="4.88" height="8.34" fill="#E0F2F7"/>
<rect x="94.55" y="249.48" width="4.88" height="8.34" fill="#BBDAEB"/>
<rect x="99.42" y="249.48" width="4.88" height="8.34" fill="#BBDAEB"/>
<rect x="104.30" y="249.48" width="4.88" height="8.34" fill="#DA4A36"/>
<rect x="109.17" y="249.48" width="4.88" height="8.34" fill="#C2272A"/>
<rect x="114.05" y="249.48" width="4.88" height="8.34" fill="#FDE8A1"/>
<rect x="118.92" y="249.48" width="4.88" height="8.34" fill="#F9BB73"/>
<rect x="123.80" y="249.48" width="4.88" height="8.34" fill="#F59C5E"/>
<rect x="128.68" y="249.48" width="4.88" height="8.34" fill="#C72C2A"/>
<rect x="133.55" y="249.48" width="4.88" height="8.34" fill="#F38E57"/>
<rect x="138.43" y="249.48" width="4.88" height="8.34" fill="#FEF3B2"/>
<rect x="143.30" y="249.48" width="4.88" height="8.34" fill="#DA4A36"/>
<rect x="148.18" y="249.48" width="4.88" height="8.34" fill="#FEF8B9"/>
<rect x="153.05" y="249.48" width="4.88" height="8.34" fill="#D0362D"/>
<rect x="157.93" y="249.48" width="4.88" height="8.34" fill="#FBD48A"/>
<rect x="26.30" y="257.82" width="4.88" height="8.34" fill="#CEE6F1"/>
<rect x="31.18" y="257.82" width="4.88" height="8.34" fill="#CEE6F1"/>
<rect x="36.05" y="257.82" width="4.88" height="8.34" fill="#C4E0EE"/>
<rect x="40.92" y="257.82" width="4.88" height="8.34" fill="#F0F9DC"/>
<rect x="45.80" y="257.82" width="4.88" height="8.34" fill="#F5FBD4"/>
<rect x="50.67" y="257.82" width="4.88" height="8.34" fill="#C4E0EE"/>
<rect x="55.55" y="257.82" width="4.88" height="8.34" fill="#CEE6F1"/>
<rect x="60.42" y="257.82" width="4.88" height="8.34" fill="#E3F3F4"/>
<rect x="65.30" y="257.82" width="4.88" height="8.34" fill="#DCF0F6"/>
<rect x="70.17" y="257.82" width="4.88" height="8.34" fill="#92BADA"/>
<rect x="75.05" y="257.82" width="4.88" height="8.34" fill="#C4E0EE"/>
<rect x="79.92" y="257.82" width="4.88" height="8.34" fill="#BBDAEB"/>
<rect x="84.80" y="257.82" width="4.88" height="8.34" fill="#DCF0F6"/>
<rect x="89.67" y="257.82" width="4.88" height="8.34" fill="#C4E0EE"/>
<rect x="94.55" y="257.82" width="4.88" height="8.34" fill="#DCF0F6"/>
<rect x="99.42" y="257.82" width="4.88" height="8.34" fill="#C4E0EE"/>
<rect x="104.30" y="257.82" width="4.88" height="8.34" fill="#DA4A36"/>
<rect x="109.17" y="257.82" width="4.88" height="8.34" fill="#DA4A36"/>
<rect x="114.05" y="257.82" width="4.88" height="8.34" fill="#FCDE93"/>
<rect x="118.92" y="257.82" width="4.88" height="8.34" fill="#F8AA65"/>
<rect x="123.80" y="257.82" width="4.88" height="8.34" fill="#F59C5E"/>
<rect x="128.68" y="257.82" width="4.88" height="8.34" fill="#D0362D"/>
<rect x="133.55" y="257.82" width="4.88" height="8.34" fill="#F9BB73"/>
<rect x="138.43" y="257.82" width="4.88" height="8.34" fill="#E3F3F4"/>
<rect x="143.30" y="257.82" width="4.88" height="8.34" fill="#D0362D"/>
<rect x="148.18" y="257.82" width="4.88" height="8.34" fill="#FEF3B2"/>
<rect x="153.05" y="257.82" width="4.88" height="8.34" fill="#DA4A36"/>
<rect x="157.93" y="257.82" width="4.88" height="8.34" fill="#FCDE93"/>
<rect x="26.30" y="266.16" width="4.88" height="8.34" fill="#BBDAEB"/>
<rect x="31.18" y="266.16" width="4.88" height="8.34" fill="#ACCFE6"/>
<rect x="36.05" y="266.16" width="4.88" height="8.34" fill="#CEE6F1"/>
<rect x="40.92" y="266.16" width="4.88" height="8.34" fill="#C4E0EE"/>
<rect x="45.80" y="266.16" width="4.88" height="8.34" fill="#CEE6F1"/>
<rect x="50.67" y="266.16" width="4.88" height="8.34" fill="#F0F9DC"/>
<rect x="55.55" y="266.16" width="4.88" height="8.34" fill="#D3E9F3"/>
<rect x="60.42" y="266.16" width="4.88" height="8.34" fill="#FEFEC3"/>
<rect x="65.30" y="266.16" width="4.88" height="8.34" fill="#C4E0EE"/>
<rect x="70.17" y="266.16" width="4.88" height="8.34" fill="#CEE6F1"/>
<rect x="75.05" y="266.16" width="4.88" height="8.34" fill="#CEE6F1"/>
<rect x="79.92" y="266.16" width="4.88" height="8.34" fill="#ACCFE6"/>
<rect x="84.80" y="266.16" width="4.88" height="8.34" fill="#CEE6F1"/>
<rect x="89.67" y="266.16" width="4.88" height="8.34" fill="#ACCFE6"/>
<rect x="94.55" y="266.16" width="4.88" height="8.34" fill="#C4E0EE"/>
<rect x="99.42" y="266.16" width="4.88" height="8.34" fill="#BBDAEB"/>
<rect x="104.30" y="266.16" width="4.88" height="8.34" fill="#C2272A"/>
<rect x="109.17" y="266.16" width="4.88" height="8.34" fill="#E86543"/>
<rect x="114.05" y="266.16" width="4.88" height="8.34" fill="#FDE8A1"/>
<rect x="118.92" y="266.16" width="4.88" height="8.34" fill="#F9BB73"/>
<rect x="123.80" y="266.16" width="4.88" height="8.34" fill="#F18754"/>
<rect x="128.68" y="266.16" width="4.88" height="8.34" fill="#DA4A36"/>
<rect x="133.55" y="266.16" width="4.88" height="8.34" fill="#F8AA65"/>
<rect x="138.43" y="266.16" width="4.88" height="8.34" fill="#FEF8B9"/>
<rect x="143.30" y="266.16" width="4.88" height="8.34" fill="#E1573D"/>
<rect x="148.18" y="266.16" width="4.88" height="8.34" fill="#FDE8A1"/>
<rect x="153.05" y="266.16" width="4.88" height="8.34" fill="#D0362D"/>
<rect x="157.93" y="266.16" width="4.88" height="8.34" fill="#FCDE93"/>
</g>
<g font-size="4.3" fill="#000" stroke="#000" stroke-width="0.15">
<text x="164.3" y="30.52">Azelaic acid</text>
<text x="164.3" y="38.86">His-Tyr</text>
<text x="164.3" y="47.20">Hexaethylene glycol</text>
<text x="164.3" y="55.54">2,4,4-Trimethylcyclopentanone</text>
<text x="164.3" y="63.88">Ser-Phe</text>
<text x="164.3" y="72.22">DL-2-Aminocaprylic acid</text>
<text x="164.3" y="80.56">1-(1Z-Octadecenyl)-sn-glycero-3-phosphocholine</text>
<text x="164.3" y="88.90">LysoPC 22:4</text>
<text x="164.3" y="97.24">LysoPC 18:1</text>
<text x="164.3" y="105.58">LysoPC 20:2</text>
<text x="164.3" y="113.92">Pregnenolone sulfate</text>
<text x="164.3" y="122.26">Menevalatin</text>
<text x="164.3" y="130.60">LysoPG 16:1</text>
<text x="164.3" y="138.94">LysoPG 22:6</text>
<text x="164.3" y="147.28">LysoPI 18:1</text>
<text x="164.3" y="155.62">LysoPE 18:1</text>
<text x="164.3" y="163.96">LysoPE 22:5</text>
<text x="164.3" y="172.30">LysoPE 18:0</text>
<text x="164.3" y="180.64">LysoPS 22:6</text>
<text x="164.3" y="188.98">LysoPE 20:1</text>
<text x="164.3" y="197.32">LysoPC 14:0</text>
<text x="164.3" y="205.66">LysoPI 22:6</text>
<text x="164.3" y="214.00">1-Stearoyl-2-hydroxy-sn-glycero-3-phosphocholine</text>
<text x="164.3" y="222.34">1-arachidonoyl-sn-glycero-3-phospho-1D-myo-inositol</text>
<text x="164.3" y="230.68">LysoPI 20:4; LysoPE 20:4</text>
<text x="164.3" y="239.02">LysoPI 16:0</text>
<text x="164.3" y="247.36">Docosapentaenoic acid</text>
<text x="164.3" y="255.70">Retinyl ester</text>
<text x="164.3" y="264.04">Arachidonic acid</text>
<text x="164.3" y="272.38">Docosahexaenoic acid</text>
</g>
<g font-size="4.3" fill="#000" stroke="#000" stroke-width="0.08">
<text transform="translate(27.19,277.6) rotate(90)">H1</text>
<text transform="translate(32.06,277.6) rotate(90)">H2</text>
<text transform="translate(36.94,277.6) rotate(90)">H3</text>
<text transform="translate(41.81,277.6) rotate(90)">H4</text>
<text transform="translate(46.69,277.6) rotate(90)">H5</text>
<text transform="translate(51.56,277.6) rotate(90)">H6</text>
<text transform="translate(56.44,277.6) rotate(90)">H7</text>
<text transform="translate(61.31,277.6) rotate(90)">H8</text>
<text transform="translate(66.19,277.6) rotate(90)">H9</text>
<text transform="translate(71.06,277.6) rotate(90)">H10</text>
<text transform="translate(75.94,277.6) rotate(90)">H11</text>
<text transform="translate(80.81,277.6) rotate(90)">H12</text>
<text transform="translate(85.69,277.6) rotate(90)">H13</text>
<text transform="translate(90.56,277.6) rotate(90)">H14</text>
<text transform="translate(95.44,277.6) rotate(90)">H15</text>
<text transform="translate(100.31,277.6) rotate(90)">H16</text>
<text transform="translate(105.19,277.6) rotate(90)">B1</text>
<text transform="translate(110.06,277.6) rotate(90)">B2</text>
<text transform="translate(114.94,277.6) rotate(90)">B3</text>
<text transform="translate(119.81,277.6) rotate(90)">B4</text>
<text transform="translate(124.69,277.6) rotate(90)">B5</text>
<text transform="translate(129.56,277.6) rotate(90)">B6</text>
<text transform="translate(134.44,277.6) rotate(90)">B7</text>
<text transform="translate(139.31,277.6) rotate(90)">B8</text>
<text transform="translate(144.19,277.6) rotate(90)">B9</text>
<text transform="translate(149.06,277.6) rotate(90)">B10</text>
<text transform="translate(153.94,277.6) rotate(90)">B11</text>
<text transform="translate(158.81,277.6) rotate(90)">B12</text>
</g>
<rect x="0" y="39.12" width="1.7" height="79.76" fill="#BDBDBD"/>
<g stroke="#222" stroke-width="0.6" fill="none" stroke-linecap="square">
<line x1="23.90" y1="36.81" x2="23.90" y2="45.15"/>
<line x1="23.90" y1="36.81" x2="26.30" y2="36.81"/>
<line x1="23.90" y1="45.15" x2="26.30" y2="45.15"/>
<line x1="23.40" y1="61.83" x2="23.40" y2="70.17"/>
<line x1="23.40" y1="61.83" x2="26.30" y2="61.83"/>
<line x1="23.40" y1="70.17" x2="26.30" y2="70.17"/>
<line x1="22.40" y1="53.49" x2="22.40" y2="66.00"/>
<line x1="22.40" y1="53.49" x2="26.30" y2="53.49"/>
<line x1="22.40" y1="66.00" x2="23.40" y2="66.00"/>
<line x1="21.50" y1="40.98" x2="21.50" y2="59.74"/>
<line x1="21.50" y1="40.98" x2="23.90" y2="40.98"/>
<line x1="21.50" y1="59.74" x2="22.40" y2="59.74"/>
<line x1="15.80" y1="28.47" x2="15.80" y2="50.36"/>
<line x1="15.80" y1="28.47" x2="26.30" y2="28.47"/>
<line x1="15.80" y1="50.36" x2="21.50" y2="50.36"/>
<line x1="25.20" y1="95.19" x2="25.20" y2="103.53"/>
<line x1="25.20" y1="95.19" x2="26.30" y2="95.19"/>
<line x1="25.20" y1="103.53" x2="26.30" y2="103.53"/>
<line x1="23.70" y1="86.85" x2="23.70" y2="99.36"/>
<line x1="23.70" y1="86.85" x2="26.30" y2="86.85"/>
<line x1="23.70" y1="99.36" x2="25.20" y2="99.36"/>
<line x1="21.60" y1="78.51" x2="21.60" y2="93.10"/>
<line x1="21.60" y1="78.51" x2="26.30" y2="78.51"/>
<line x1="21.60" y1="93.10" x2="23.70" y2="93.10"/>
<line x1="21.60" y1="111.87" x2="21.60" y2="120.21"/>
<line x1="21.60" y1="111.87" x2="26.30" y2="111.87"/>
<line x1="21.60" y1="120.21" x2="26.30" y2="120.21"/>
<line x1="23.70" y1="128.55" x2="23.70" y2="136.89"/>
<line x1="23.70" y1="128.55" x2="26.30" y2="128.55"/>
<line x1="23.70" y1="136.89" x2="26.30" y2="136.89"/>
<line x1="23.80" y1="145.23" x2="23.80" y2="153.57"/>
<line x1="23.80" y1="145.23" x2="26.30" y2="145.23"/>
<line x1="23.80" y1="153.57" x2="26.30" y2="153.57"/>
<line x1="25.00" y1="170.25" x2="25.00" y2="178.59"/>
<line x1="25.00" y1="170.25" x2="26.30" y2="170.25"/>
<line x1="25.00" y1="178.59" x2="26.30" y2="178.59"/>
<line x1="24.20" y1="161.91" x2="24.20" y2="174.42"/>
<line x1="24.20" y1="161.91" x2="26.30" y2="161.91"/>
<line x1="24.20" y1="174.42" x2="25.00" y2="174.42"/>
<line x1="23.70" y1="186.93" x2="23.70" y2="195.27"/>
<line x1="23.70" y1="186.93" x2="26.30" y2="186.93"/>
<line x1="23.70" y1="195.27" x2="26.30" y2="195.27"/>
<line x1="23.00" y1="168.17" x2="23.00" y2="191.10"/>
<line x1="23.00" y1="168.17" x2="24.20" y2="168.17"/>
<line x1="23.00" y1="191.10" x2="23.70" y2="191.10"/>
<line x1="22.40" y1="149.40" x2="22.40" y2="179.63"/>
<line x1="22.40" y1="149.40" x2="23.80" y2="149.40"/>
<line x1="22.40" y1="179.63" x2="23.00" y2="179.63"/>
<line x1="21.40" y1="132.72" x2="21.40" y2="164.52"/>
<line x1="21.40" y1="132.72" x2="23.70" y2="132.72"/>
<line x1="21.40" y1="164.52" x2="22.40" y2="164.52"/>
<line x1="22.60" y1="203.61" x2="22.60" y2="211.95"/>
<line x1="22.60" y1="203.61" x2="26.30" y2="203.61"/>
<line x1="22.60" y1="211.95" x2="26.30" y2="211.95"/>
<line x1="24.00" y1="220.29" x2="24.00" y2="228.63"/>
<line x1="24.00" y1="220.29" x2="26.30" y2="220.29"/>
<line x1="24.00" y1="228.63" x2="26.30" y2="228.63"/>
<line x1="23.00" y1="224.46" x2="23.00" y2="236.97"/>
<line x1="23.00" y1="224.46" x2="24.00" y2="224.46"/>
<line x1="23.00" y1="236.97" x2="26.30" y2="236.97"/>
<line x1="25.00" y1="261.99" x2="25.00" y2="270.33"/>
<line x1="25.00" y1="261.99" x2="26.30" y2="261.99"/>
<line x1="25.00" y1="270.33" x2="26.30" y2="270.33"/>
<line x1="23.70" y1="253.65" x2="23.70" y2="266.16"/>
<line x1="23.70" y1="253.65" x2="26.30" y2="253.65"/>
<line x1="23.70" y1="266.16" x2="25.00" y2="266.16"/>
<line x1="22.20" y1="245.31" x2="22.20" y2="259.90"/>
<line x1="22.20" y1="245.31" x2="26.30" y2="245.31"/>
<line x1="22.20" y1="259.90" x2="23.70" y2="259.90"/>
<line x1="21.90" y1="230.72" x2="21.90" y2="252.61"/>
<line x1="21.90" y1="230.72" x2="23.00" y2="230.72"/>
<line x1="21.90" y1="252.61" x2="22.20" y2="252.61"/>
<line x1="21.20" y1="207.78" x2="21.20" y2="241.66"/>
<line x1="21.20" y1="207.78" x2="22.60" y2="207.78"/>
<line x1="21.20" y1="241.66" x2="21.90" y2="241.66"/>
<line x1="19.50" y1="148.62" x2="19.50" y2="224.72"/>
<line x1="19.50" y1="148.62" x2="21.40" y2="148.62"/>
<line x1="19.50" y1="224.72" x2="21.20" y2="224.72"/>
<line x1="17.30" y1="116.04" x2="17.30" y2="186.67"/>
<line x1="17.30" y1="116.04" x2="21.60" y2="116.04"/>
<line x1="17.30" y1="186.67" x2="19.50" y2="186.67"/>
<line x1="15.60" y1="85.81" x2="15.60" y2="151.35"/>
<line x1="15.60" y1="85.81" x2="21.60" y2="85.81"/>
<line x1="15.60" y1="151.35" x2="17.30" y2="151.35"/>
<line x1="1.20" y1="39.42" x2="15.80" y2="39.42"/>
<line x1="1.20" y1="118.58" x2="15.60" y2="118.58"/>
</g>
<defs><linearGradient id="lg" x1="0" y1="0" x2="0" y2="1">
<stop offset="0.0%" stop-color="#A50026"/>
<stop offset="10.0%" stop-color="#D73027"/>
<stop offset="20.0%" stop-color="#F46D43"/>
<stop offset="30.0%" stop-color="#FDAE61"/>
<stop offset="40.0%" stop-color="#FEE090"/>
<stop offset="50.0%" stop-color="#FFFFBF"/>
<stop offset="60.0%" stop-color="#E0F3F8"/>
<stop offset="70.0%" stop-color="#AFD4EA"/>
<stop offset="80.0%" stop-color="#7AAAD4"/>
<stop offset="90.0%" stop-color="#4575B4"/>
<stop offset="100.0%" stop-color="#313695"/>
</linearGradient></defs>
<rect x="271" y="24.5" width="5.3" height="71.9" fill="url(#lg)"/>
<g font-size="4.3" fill="#000" stroke="#000" stroke-width="0.12">
<text x="278.3" y="28.95">4</text>
<text x="278.3" y="44.95">2</text>
<text x="278.3" y="60.95">0</text>
<text x="278.3" y="76.95">-2</text>
<text x="278.3" y="92.95">-4</text>
</g>
<g stroke="#222" stroke-width="0.7" fill="none">
<path d="M324.3 62.4V214.1"/>
<path d="M320.7 62.40H324.3"/>
<path d="M320.7 87.68H324.3"/>
<path d="M320.7 112.96H324.3"/>
<path d="M320.7 138.24H324.3"/>
<path d="M320.7 163.52H324.3"/>
<path d="M320.7 188.80H324.3"/>
<path d="M320.7 214.08H324.3"/>
<path d="M330.5 221.8H471.3"/>
<path d="M330.50 221.8V224.8"/>
<path d="M358.66 221.8V224.8"/>
<path d="M386.82 221.8V224.8"/>
<path d="M414.98 221.8V224.8"/>
<path d="M443.14 221.8V224.8"/>
<path d="M471.30 221.8V224.8"/>
</g>
<g font-size="5.5" fill="#000" stroke="#000" stroke-width="0.1" text-anchor="middle">
<text transform="translate(316.6,62.40) rotate(-90)">8</text>
<text transform="translate(316.6,87.68) rotate(-90)">7</text>
<text transform="translate(316.6,112.96) rotate(-90)">6</text>
<text transform="translate(316.6,138.24) rotate(-90)">5</text>
<text transform="translate(316.6,163.52) rotate(-90)">4</text>
<text transform="translate(316.6,188.80) rotate(-90)">3</text>
<text transform="translate(316.6,214.08) rotate(-90)">2</text>
<text x="330.50" y="233.2">0.00</text>
<text x="358.66" y="233.2">0.05</text>
<text x="386.82" y="233.2">0.10</text>
<text x="414.98" y="233.2">0.15</text>
<text x="443.14" y="233.2">0.20</text>
<text x="471.30" y="233.2">0.25</text>
<text x="408.6" y="246">Pathway Impact</text>
<text font-size="5.3" transform="translate(304.4,136.8) rotate(-90)">-log10(p)</text>
</g>
<g stroke="#000" stroke-width="0.75">
<circle cx="379.5" cy="58.5" r="5.5" fill="#DE0F14"/>
<circle cx="330.5" cy="83.2" r="2.1" fill="#F5A81F"/>
<circle cx="486.8" cy="80.9" r="7.6" fill="#E5601A"/>
<circle cx="417.7" cy="98.9" r="6.2" fill="#FFF748"/>
<circle cx="330.5" cy="214.4" r="2.1" fill="#FFF466"/>
</g>
<g font-size="6.6" fill="#000" stroke="#000" stroke-width="0.1">
<text x="386.9" y="61.9" textLength="96" lengthAdjust="spacingAndGlyphs">Glycerophospholipid metabolism</text>
<text x="334.3" y="85.6" textLength="111.8" lengthAdjust="spacingAndGlyphs">Biosynthesis of unsaturated fatty acids</text>
<text x="447.9" y="97.7" textLength="84.1" lengthAdjust="spacingAndGlyphs">Arachidonic acid metabolism</text>
<text x="390" y="113.8" textLength="56.1" lengthAdjust="spacingAndGlyphs">Retinol metabolism</text>
<text x="334.3" y="216.8" textLength="87.3" lengthAdjust="spacingAndGlyphs">Steroid hormone biosynthesis</text>
</g>
<text x="599.4" y="29.7" font-size="10.8" fill="#222" stroke="#222" stroke-width="0.15" textLength="63.2" lengthAdjust="spacingAndGlyphs">Retinyl Ester</text>
<g stroke="#000" stroke-width="1" fill="none">
<path d="M571.2 34.2V140.7"/><path d="M566.6 140.7H678.9"/>
<path d="M566.6 34.7H571.2"/>
<path d="M566.6 70.0H571.2"/>
<path d="M566.6 105.3H571.2"/>
<path d="M602 140.7V144.6"/><path d="M648.1 140.7V144.6"/>
</g>
<g font-size="8" font-weight="bold" fill="#000" text-anchor="end">
<text x="565.2" y="37.6">6</text>
<text x="565.2" y="72.9">4</text>
<text x="565.2" y="108.2">2</text>
<text x="565.2" y="143.6">0</text>
</g>
<g font-size="8.6" fill="#000" stroke="#000" stroke-width="0.15" text-anchor="middle"><text x="602" y="157.6">H</text><text x="647.8" y="157.6">BCa</text></g>
<text font-size="8.6" font-weight="bold" fill="#000" stroke="#000" stroke-width="0.12" transform="translate(547.1,144.3) rotate(-90)">Normalized Intenssit&#160;&#160;(×10<tspan font-size="5.6" dy="-3">-4</tspan><tspan dy="3">)</tspan></text>
<path d="M647.8 45.5V85" stroke="#000" stroke-width="0.8"/>
<path d="M648.10 49.60C648.68 50.08 649.67 51.55 651.00 52.50C652.33 53.45 654.37 54.52 656.10 55.30C657.83 56.08 660.32 56.68 661.40 57.20C662.48 57.72 662.70 58.02 662.60 58.40C662.50 58.78 661.80 59.07 660.80 59.50C659.80 59.93 657.52 60.33 656.60 61.00C655.68 61.67 655.57 62.50 655.30 63.50C655.03 64.50 654.87 65.75 655.00 67.00C655.13 68.25 656.17 69.75 656.10 71.00C656.03 72.25 655.45 73.33 654.60 74.50C653.75 75.67 652.08 76.93 651.00 78.00C649.92 79.07 648.68 80.42 648.10 80.90C647.52 81.38 648.08 81.38 647.50 80.90C646.92 80.42 645.68 79.07 644.60 78.00C643.52 76.93 641.85 75.67 641.00 74.50C640.15 73.33 639.57 72.25 639.50 71.00C639.43 69.75 640.47 68.25 640.60 67.00C640.73 65.75 640.57 64.50 640.30 63.50C640.03 62.50 639.92 61.67 639.00 61.00C638.08 60.33 635.80 59.93 634.80 59.50C633.80 59.07 633.10 58.78 633.00 58.40C632.90 58.02 633.12 57.72 634.20 57.20C635.28 56.68 637.77 56.08 639.50 55.30C641.23 54.52 643.27 53.45 644.60 52.50C645.93 51.55 646.92 50.08 647.50 49.60C648.08 49.12 647.52 49.12 648.10 49.60Z" fill="#FBF3A0" stroke="#000" stroke-width="0.9" stroke-linejoin="round"/>
<path d="M633.8 58.3H661.8" stroke="#b5a95a" stroke-width="0.5"/>
<path d="M640.2 62.6H655.4" stroke="#111" stroke-width="0.6" stroke-dasharray="1.4 0.8"/>
<path d="M639.8 71.2H655.8" stroke="#b5a95a" stroke-width="0.5"/>
<path d="M601.80 78.70 L606.00 81.10 L604.50 82.60 L608.60 84.10 L616.40 84.95 L616.40 85.35 L608.60 86.20 L604.50 87.70 L605.60 88.90 L601.80 89.70 L601.80 89.70 L598.00 88.90 L599.10 87.70 L595.00 86.20 L587.20 85.35 L587.20 84.95 L595.00 84.10 L599.10 82.60 L597.60 81.10 L601.80 78.70 Z" fill="#ADE6DA" stroke="#000" stroke-width="1.25" stroke-linejoin="miter"/>
<path d="M595.8 85.05H607.8" stroke="#222" stroke-width="0.5" stroke-dasharray="1 0.6"/>
<path d="M597.8 83.7H605.8 M597.8 86.4H605.8" stroke="#6fa59a" stroke-width="0.4"/>
<g stroke="#e2e2e2" stroke-width="0.5">
<path d="M578.40 167.8V268.8"/>
<path d="M572 265.20H683"/>
<path d="M588.43 167.8V268.8"/>
<path d="M572 255.93H683"/>
<path d="M598.46 167.8V268.8"/>
<path d="M572 246.66H683"/>
<path d="M608.49 167.8V268.8"/>
<path d="M572 237.39H683"/>
<path d="M618.52 167.8V268.8"/>
<path d="M572 228.12H683"/>
<path d="M628.55 167.8V268.8"/>
<path d="M572 218.85H683"/>
<path d="M638.58 167.8V268.8"/>
<path d="M572 209.58H683"/>
<path d="M648.61 167.8V268.8"/>
<path d="M572 200.31H683"/>
<path d="M658.64 167.8V268.8"/>
<path d="M572 191.04H683"/>
<path d="M668.67 167.8V268.8"/>
<path d="M572 181.77H683"/>
<path d="M678.70 167.8V268.8"/>
<path d="M572 172.50H683"/>
</g>
<rect x="571.6" y="167.3" width="111.9" height="102.1" fill="none" stroke="#3a3a3a" stroke-width="1.1"/>
<path d="M578.4 255.9L678.7 172.5" stroke="#333" stroke-width="0.6" fill="none"/>
<path d="M578.4 255.9V172.5H678.7" stroke="#8FC9B4" stroke-width="0.8" fill="none"/>
<g font-size="4.6" font-weight="bold" fill="#111" stroke="#111" stroke-width="0.1" text-anchor="end">
<text x="570.3" y="266.75">0</text>
<text x="570.3" y="257.48">0.1</text>
<text x="570.3" y="248.21">0.2</text>
<text x="570.3" y="238.94">0.3</text>
<text x="570.3" y="229.67">0.4</text>
<text x="570.3" y="220.40">0.5</text>
<text x="570.3" y="211.13">0.6</text>
<text x="570.3" y="201.86">0.7</text>
<text x="570.3" y="192.59">0.8</text>
<text x="570.3" y="183.32">0.9</text>
<text x="570.3" y="174.05">1</text>
</g>
<g font-size="4.6" font-weight="bold" fill="#111" stroke="#111" stroke-width="0.1" text-anchor="middle">
<text x="577.80" y="274.1">0</text>
<text x="587.83" y="274.1">0.1</text>
<text x="597.86" y="274.1">0.2</text>
<text x="607.89" y="274.1">0.3</text>
<text x="617.92" y="274.1">0.4</text>
<text x="627.95" y="274.1">0.5</text>
<text x="637.98" y="274.1">0.6</text>
<text x="648.01" y="274.1">0.7</text>
<text x="658.04" y="274.1">0.8</text>
<text x="668.07" y="274.1">0.9</text>
<text x="678.10" y="274.1">1</text>
</g>
<text x="597.9" y="284.8" font-size="6.6" font-weight="bold" fill="#111" stroke="#111" stroke-width="0.1" textLength="68.3" lengthAdjust="spacingAndGlyphs">FP Rate (1-Specificity)</text>
<text font-size="7" font-weight="bold" fill="#111" stroke="#111" stroke-width="0.1" textLength="67.5" lengthAdjust="spacingAndGlyphs" transform="translate(560.5,254.9) rotate(-90)">TP Rate (Sensitivity)</text>
</svg></body></html>
